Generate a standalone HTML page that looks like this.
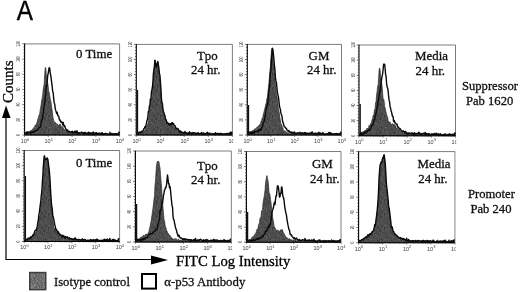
<!DOCTYPE html>
<html lang="en">
<head>
<meta charset="utf-8">
<title>Figure A - FITC Log Intensity histograms</title>
<style>
html,body{margin:0;padding:0;background:#fff;}
body{width:520px;height:292px;overflow:hidden;}
svg{display:block;}
.lb{font-family:"Liberation Serif","Times New Roman",serif;font-size:12.6px;fill:#111;stroke:#111;stroke-width:0.3px;}
.fx{font-family:"Liberation Serif","Times New Roman",serif;font-size:14.7px;fill:#000;stroke:#000;stroke-width:0.3px;}
.ct{font-family:"Liberation Serif","Times New Roman",serif;font-size:15px;fill:#000;stroke:#000;stroke-width:0.3px;}
.pa{font-family:"Liberation Sans",Arial,sans-serif;font-size:27px;fill:#000;stroke:#000;stroke-width:0.4px;}
.tk{font-family:"Liberation Sans",Arial,sans-serif;font-size:5.5px;fill:#3a3a3a;}
</style>
</head>
<body>
<svg width="520" height="292" viewBox="0 0 520 292">
<rect x="0" y="0" width="520" height="292" fill="#fff"/>
<defs><pattern id="dz" width="14" height="14" patternUnits="userSpaceOnUse"><rect width="14" height="14" fill="#4e4e4e"/><rect x="0" y="0" width="1" height="1" fill="#5e5e5e"/><rect x="0" y="1" width="1" height="1" fill="#515151"/><rect x="0" y="2" width="1" height="1" fill="#4e4e4e"/><rect x="0" y="3" width="1" height="1" fill="#3d3d3d"/><rect x="0" y="4" width="1" height="1" fill="#4b4b4b"/><rect x="0" y="5" width="1" height="1" fill="#4a4a4a"/><rect x="0" y="6" width="1" height="1" fill="#4d4d4d"/><rect x="0" y="7" width="1" height="1" fill="#484848"/><rect x="0" y="8" width="1" height="1" fill="#4d4d4d"/><rect x="0" y="9" width="1" height="1" fill="#494949"/><rect x="0" y="10" width="1" height="1" fill="#424242"/><rect x="0" y="11" width="1" height="1" fill="#555555"/><rect x="0" y="12" width="1" height="1" fill="#555555"/><rect x="0" y="13" width="1" height="1" fill="#5d5d5d"/><rect x="1" y="0" width="1" height="1" fill="#4e4e4e"/><rect x="1" y="1" width="1" height="1" fill="#4a4a4a"/><rect x="1" y="2" width="1" height="1" fill="#494949"/><rect x="1" y="3" width="1" height="1" fill="#404040"/><rect x="1" y="4" width="1" height="1" fill="#565656"/><rect x="1" y="5" width="1" height="1" fill="#444444"/><rect x="1" y="6" width="1" height="1" fill="#434343"/><rect x="1" y="7" width="1" height="1" fill="#4c4c4c"/><rect x="1" y="8" width="1" height="1" fill="#5b5b5b"/><rect x="1" y="9" width="1" height="1" fill="#505050"/><rect x="1" y="10" width="1" height="1" fill="#444444"/><rect x="1" y="11" width="1" height="1" fill="#474747"/><rect x="1" y="12" width="1" height="1" fill="#535353"/><rect x="1" y="13" width="1" height="1" fill="#4c4c4c"/><rect x="2" y="0" width="1" height="1" fill="#474747"/><rect x="2" y="1" width="1" height="1" fill="#4b4b4b"/><rect x="2" y="2" width="1" height="1" fill="#545454"/><rect x="2" y="3" width="1" height="1" fill="#5f5f5f"/><rect x="2" y="4" width="1" height="1" fill="#424242"/><rect x="2" y="5" width="1" height="1" fill="#484848"/><rect x="2" y="6" width="1" height="1" fill="#464646"/><rect x="2" y="7" width="1" height="1" fill="#383838"/><rect x="2" y="8" width="1" height="1" fill="#454545"/><rect x="2" y="9" width="1" height="1" fill="#444444"/><rect x="2" y="10" width="1" height="1" fill="#585858"/><rect x="2" y="11" width="1" height="1" fill="#4c4c4c"/><rect x="2" y="12" width="1" height="1" fill="#3f3f3f"/><rect x="2" y="13" width="1" height="1" fill="#535353"/><rect x="3" y="0" width="1" height="1" fill="#4a4a4a"/><rect x="3" y="1" width="1" height="1" fill="#3e3e3e"/><rect x="3" y="2" width="1" height="1" fill="#484848"/><rect x="3" y="3" width="1" height="1" fill="#484848"/><rect x="3" y="4" width="1" height="1" fill="#464646"/><rect x="3" y="5" width="1" height="1" fill="#4e4e4e"/><rect x="3" y="6" width="1" height="1" fill="#393939"/><rect x="3" y="7" width="1" height="1" fill="#4b4b4b"/><rect x="3" y="8" width="1" height="1" fill="#575757"/><rect x="3" y="9" width="1" height="1" fill="#555555"/><rect x="3" y="10" width="1" height="1" fill="#575757"/><rect x="3" y="11" width="1" height="1" fill="#585858"/><rect x="3" y="12" width="1" height="1" fill="#5b5b5b"/><rect x="3" y="13" width="1" height="1" fill="#434343"/><rect x="4" y="0" width="1" height="1" fill="#555555"/><rect x="4" y="1" width="1" height="1" fill="#3d3d3d"/><rect x="4" y="2" width="1" height="1" fill="#484848"/><rect x="4" y="3" width="1" height="1" fill="#3c3c3c"/><rect x="4" y="4" width="1" height="1" fill="#575757"/><rect x="4" y="5" width="1" height="1" fill="#5a5a5a"/><rect x="4" y="6" width="1" height="1" fill="#4c4c4c"/><rect x="4" y="7" width="1" height="1" fill="#5d5d5d"/><rect x="4" y="8" width="1" height="1" fill="#474747"/><rect x="4" y="9" width="1" height="1" fill="#4f4f4f"/><rect x="4" y="10" width="1" height="1" fill="#4f4f4f"/><rect x="4" y="11" width="1" height="1" fill="#444444"/><rect x="4" y="12" width="1" height="1" fill="#515151"/><rect x="4" y="13" width="1" height="1" fill="#5f5f5f"/><rect x="5" y="0" width="1" height="1" fill="#444444"/><rect x="5" y="1" width="1" height="1" fill="#565656"/><rect x="5" y="2" width="1" height="1" fill="#4c4c4c"/><rect x="5" y="3" width="1" height="1" fill="#5d5d5d"/><rect x="5" y="4" width="1" height="1" fill="#525252"/><rect x="5" y="5" width="1" height="1" fill="#545454"/><rect x="5" y="6" width="1" height="1" fill="#535353"/><rect x="5" y="7" width="1" height="1" fill="#505050"/><rect x="5" y="8" width="1" height="1" fill="#414141"/><rect x="5" y="9" width="1" height="1" fill="#5a5a5a"/><rect x="5" y="10" width="1" height="1" fill="#414141"/><rect x="5" y="11" width="1" height="1" fill="#505050"/><rect x="5" y="12" width="1" height="1" fill="#535353"/><rect x="5" y="13" width="1" height="1" fill="#464646"/><rect x="6" y="0" width="1" height="1" fill="#4f4f4f"/><rect x="6" y="1" width="1" height="1" fill="#585858"/><rect x="6" y="2" width="1" height="1" fill="#4d4d4d"/><rect x="6" y="3" width="1" height="1" fill="#464646"/><rect x="6" y="4" width="1" height="1" fill="#333333"/><rect x="6" y="5" width="1" height="1" fill="#454545"/><rect x="6" y="6" width="1" height="1" fill="#484848"/><rect x="6" y="7" width="1" height="1" fill="#494949"/><rect x="6" y="8" width="1" height="1" fill="#454545"/><rect x="6" y="9" width="1" height="1" fill="#515151"/><rect x="6" y="10" width="1" height="1" fill="#484848"/><rect x="6" y="11" width="1" height="1" fill="#4d4d4d"/><rect x="6" y="12" width="1" height="1" fill="#545454"/><rect x="6" y="13" width="1" height="1" fill="#464646"/><rect x="7" y="0" width="1" height="1" fill="#4b4b4b"/><rect x="7" y="1" width="1" height="1" fill="#616161"/><rect x="7" y="2" width="1" height="1" fill="#555555"/><rect x="7" y="3" width="1" height="1" fill="#424242"/><rect x="7" y="4" width="1" height="1" fill="#4d4d4d"/><rect x="7" y="5" width="1" height="1" fill="#535353"/><rect x="7" y="6" width="1" height="1" fill="#595959"/><rect x="7" y="7" width="1" height="1" fill="#4f4f4f"/><rect x="7" y="8" width="1" height="1" fill="#494949"/><rect x="7" y="9" width="1" height="1" fill="#474747"/><rect x="7" y="10" width="1" height="1" fill="#535353"/><rect x="7" y="11" width="1" height="1" fill="#505050"/><rect x="7" y="12" width="1" height="1" fill="#494949"/><rect x="7" y="13" width="1" height="1" fill="#4c4c4c"/><rect x="8" y="0" width="1" height="1" fill="#4a4a4a"/><rect x="8" y="1" width="1" height="1" fill="#545454"/><rect x="8" y="2" width="1" height="1" fill="#474747"/><rect x="8" y="3" width="1" height="1" fill="#525252"/><rect x="8" y="4" width="1" height="1" fill="#555555"/><rect x="8" y="5" width="1" height="1" fill="#525252"/><rect x="8" y="6" width="1" height="1" fill="#464646"/><rect x="8" y="7" width="1" height="1" fill="#5a5a5a"/><rect x="8" y="8" width="1" height="1" fill="#474747"/><rect x="8" y="9" width="1" height="1" fill="#515151"/><rect x="8" y="10" width="1" height="1" fill="#474747"/><rect x="8" y="11" width="1" height="1" fill="#3e3e3e"/><rect x="8" y="12" width="1" height="1" fill="#505050"/><rect x="8" y="13" width="1" height="1" fill="#505050"/><rect x="9" y="0" width="1" height="1" fill="#4d4d4d"/><rect x="9" y="1" width="1" height="1" fill="#505050"/><rect x="9" y="2" width="1" height="1" fill="#484848"/><rect x="9" y="3" width="1" height="1" fill="#474747"/><rect x="9" y="4" width="1" height="1" fill="#4c4c4c"/><rect x="9" y="5" width="1" height="1" fill="#5f5f5f"/><rect x="9" y="6" width="1" height="1" fill="#555555"/><rect x="9" y="7" width="1" height="1" fill="#494949"/><rect x="9" y="8" width="1" height="1" fill="#535353"/><rect x="9" y="9" width="1" height="1" fill="#494949"/><rect x="9" y="10" width="1" height="1" fill="#494949"/><rect x="9" y="11" width="1" height="1" fill="#555555"/><rect x="9" y="12" width="1" height="1" fill="#494949"/><rect x="9" y="13" width="1" height="1" fill="#3e3e3e"/><rect x="10" y="0" width="1" height="1" fill="#454545"/><rect x="10" y="1" width="1" height="1" fill="#4e4e4e"/><rect x="10" y="2" width="1" height="1" fill="#4f4f4f"/><rect x="10" y="3" width="1" height="1" fill="#595959"/><rect x="10" y="4" width="1" height="1" fill="#474747"/><rect x="10" y="5" width="1" height="1" fill="#545454"/><rect x="10" y="6" width="1" height="1" fill="#515151"/><rect x="10" y="7" width="1" height="1" fill="#4c4c4c"/><rect x="10" y="8" width="1" height="1" fill="#555555"/><rect x="10" y="9" width="1" height="1" fill="#525252"/><rect x="10" y="10" width="1" height="1" fill="#464646"/><rect x="10" y="11" width="1" height="1" fill="#575757"/><rect x="10" y="12" width="1" height="1" fill="#434343"/><rect x="10" y="13" width="1" height="1" fill="#4e4e4e"/><rect x="11" y="0" width="1" height="1" fill="#4e4e4e"/><rect x="11" y="1" width="1" height="1" fill="#515151"/><rect x="11" y="2" width="1" height="1" fill="#474747"/><rect x="11" y="3" width="1" height="1" fill="#4d4d4d"/><rect x="11" y="4" width="1" height="1" fill="#4c4c4c"/><rect x="11" y="5" width="1" height="1" fill="#565656"/><rect x="11" y="6" width="1" height="1" fill="#464646"/><rect x="11" y="7" width="1" height="1" fill="#4e4e4e"/><rect x="11" y="8" width="1" height="1" fill="#4b4b4b"/><rect x="11" y="9" width="1" height="1" fill="#424242"/><rect x="11" y="10" width="1" height="1" fill="#666666"/><rect x="11" y="11" width="1" height="1" fill="#4d4d4d"/><rect x="11" y="12" width="1" height="1" fill="#404040"/><rect x="11" y="13" width="1" height="1" fill="#5a5a5a"/><rect x="12" y="0" width="1" height="1" fill="#444444"/><rect x="12" y="1" width="1" height="1" fill="#515151"/><rect x="12" y="2" width="1" height="1" fill="#555555"/><rect x="12" y="3" width="1" height="1" fill="#484848"/><rect x="12" y="4" width="1" height="1" fill="#4a4a4a"/><rect x="12" y="5" width="1" height="1" fill="#494949"/><rect x="12" y="6" width="1" height="1" fill="#4c4c4c"/><rect x="12" y="7" width="1" height="1" fill="#3f3f3f"/><rect x="12" y="8" width="1" height="1" fill="#424242"/><rect x="12" y="9" width="1" height="1" fill="#4c4c4c"/><rect x="12" y="10" width="1" height="1" fill="#575757"/><rect x="12" y="11" width="1" height="1" fill="#535353"/><rect x="12" y="12" width="1" height="1" fill="#5d5d5d"/><rect x="12" y="13" width="1" height="1" fill="#545454"/><rect x="13" y="0" width="1" height="1" fill="#494949"/><rect x="13" y="1" width="1" height="1" fill="#4c4c4c"/><rect x="13" y="2" width="1" height="1" fill="#3b3b3b"/><rect x="13" y="3" width="1" height="1" fill="#454545"/><rect x="13" y="4" width="1" height="1" fill="#444444"/><rect x="13" y="5" width="1" height="1" fill="#505050"/><rect x="13" y="6" width="1" height="1" fill="#535353"/><rect x="13" y="7" width="1" height="1" fill="#484848"/><rect x="13" y="8" width="1" height="1" fill="#484848"/><rect x="13" y="9" width="1" height="1" fill="#404040"/><rect x="13" y="10" width="1" height="1" fill="#4c4c4c"/><rect x="13" y="11" width="1" height="1" fill="#505050"/><rect x="13" y="12" width="1" height="1" fill="#525252"/><rect x="13" y="13" width="1" height="1" fill="#464646"/></pattern>
<pattern id="dl" width="14" height="14" patternUnits="userSpaceOnUse"><rect width="14" height="14" fill="#707070"/><rect x="0" y="0" width="1" height="1" fill="#8b8b8b"/><rect x="0" y="1" width="1" height="1" fill="#808080"/><rect x="0" y="2" width="1" height="1" fill="#6e6e6e"/><rect x="0" y="3" width="1" height="1" fill="#686868"/><rect x="0" y="4" width="1" height="1" fill="#6b6b6b"/><rect x="0" y="5" width="1" height="1" fill="#727272"/><rect x="0" y="6" width="1" height="1" fill="#6f6f6f"/><rect x="0" y="7" width="1" height="1" fill="#767676"/><rect x="0" y="8" width="1" height="1" fill="#7a7a7a"/><rect x="0" y="9" width="1" height="1" fill="#838383"/><rect x="0" y="10" width="1" height="1" fill="#808080"/><rect x="0" y="11" width="1" height="1" fill="#6e6e6e"/><rect x="0" y="12" width="1" height="1" fill="#757575"/><rect x="0" y="13" width="1" height="1" fill="#6a6a6a"/><rect x="1" y="0" width="1" height="1" fill="#676767"/><rect x="1" y="1" width="1" height="1" fill="#8a8a8a"/><rect x="1" y="2" width="1" height="1" fill="#696969"/><rect x="1" y="3" width="1" height="1" fill="#8b8b8b"/><rect x="1" y="4" width="1" height="1" fill="#6b6b6b"/><rect x="1" y="5" width="1" height="1" fill="#737373"/><rect x="1" y="6" width="1" height="1" fill="#7f7f7f"/><rect x="1" y="7" width="1" height="1" fill="#707070"/><rect x="1" y="8" width="1" height="1" fill="#757575"/><rect x="1" y="9" width="1" height="1" fill="#6c6c6c"/><rect x="1" y="10" width="1" height="1" fill="#696969"/><rect x="1" y="11" width="1" height="1" fill="#6d6d6d"/><rect x="1" y="12" width="1" height="1" fill="#666666"/><rect x="1" y="13" width="1" height="1" fill="#868686"/><rect x="2" y="0" width="1" height="1" fill="#6d6d6d"/><rect x="2" y="1" width="1" height="1" fill="#888888"/><rect x="2" y="2" width="1" height="1" fill="#505050"/><rect x="2" y="3" width="1" height="1" fill="#707070"/><rect x="2" y="4" width="1" height="1" fill="#777777"/><rect x="2" y="5" width="1" height="1" fill="#6b6b6b"/><rect x="2" y="6" width="1" height="1" fill="#7f7f7f"/><rect x="2" y="7" width="1" height="1" fill="#787878"/><rect x="2" y="8" width="1" height="1" fill="#6c6c6c"/><rect x="2" y="9" width="1" height="1" fill="#767676"/><rect x="2" y="10" width="1" height="1" fill="#979797"/><rect x="2" y="11" width="1" height="1" fill="#737373"/><rect x="2" y="12" width="1" height="1" fill="#747474"/><rect x="2" y="13" width="1" height="1" fill="#696969"/><rect x="3" y="0" width="1" height="1" fill="#717171"/><rect x="3" y="1" width="1" height="1" fill="#5d5d5d"/><rect x="3" y="2" width="1" height="1" fill="#6d6d6d"/><rect x="3" y="3" width="1" height="1" fill="#929292"/><rect x="3" y="4" width="1" height="1" fill="#7e7e7e"/><rect x="3" y="5" width="1" height="1" fill="#787878"/><rect x="3" y="6" width="1" height="1" fill="#7f7f7f"/><rect x="3" y="7" width="1" height="1" fill="#8a8a8a"/><rect x="3" y="8" width="1" height="1" fill="#787878"/><rect x="3" y="9" width="1" height="1" fill="#8c8c8c"/><rect x="3" y="10" width="1" height="1" fill="#7e7e7e"/><rect x="3" y="11" width="1" height="1" fill="#727272"/><rect x="3" y="12" width="1" height="1" fill="#888888"/><rect x="3" y="13" width="1" height="1" fill="#505050"/><rect x="4" y="0" width="1" height="1" fill="#686868"/><rect x="4" y="1" width="1" height="1" fill="#737373"/><rect x="4" y="2" width="1" height="1" fill="#636363"/><rect x="4" y="3" width="1" height="1" fill="#6d6d6d"/><rect x="4" y="4" width="1" height="1" fill="#676767"/><rect x="4" y="5" width="1" height="1" fill="#666666"/><rect x="4" y="6" width="1" height="1" fill="#959595"/><rect x="4" y="7" width="1" height="1" fill="#787878"/><rect x="4" y="8" width="1" height="1" fill="#6f6f6f"/><rect x="4" y="9" width="1" height="1" fill="#828282"/><rect x="4" y="10" width="1" height="1" fill="#6c6c6c"/><rect x="4" y="11" width="1" height="1" fill="#7c7c7c"/><rect x="4" y="12" width="1" height="1" fill="#747474"/><rect x="4" y="13" width="1" height="1" fill="#868686"/><rect x="5" y="0" width="1" height="1" fill="#5c5c5c"/><rect x="5" y="1" width="1" height="1" fill="#7a7a7a"/><rect x="5" y="2" width="1" height="1" fill="#717171"/><rect x="5" y="3" width="1" height="1" fill="#5f5f5f"/><rect x="5" y="4" width="1" height="1" fill="#7e7e7e"/><rect x="5" y="5" width="1" height="1" fill="#636363"/><rect x="5" y="6" width="1" height="1" fill="#868686"/><rect x="5" y="7" width="1" height="1" fill="#777777"/><rect x="5" y="8" width="1" height="1" fill="#797979"/><rect x="5" y="9" width="1" height="1" fill="#717171"/><rect x="5" y="10" width="1" height="1" fill="#7c7c7c"/><rect x="5" y="11" width="1" height="1" fill="#555555"/><rect x="5" y="12" width="1" height="1" fill="#717171"/><rect x="5" y="13" width="1" height="1" fill="#676767"/><rect x="6" y="0" width="1" height="1" fill="#737373"/><rect x="6" y="1" width="1" height="1" fill="#6f6f6f"/><rect x="6" y="2" width="1" height="1" fill="#787878"/><rect x="6" y="3" width="1" height="1" fill="#646464"/><rect x="6" y="4" width="1" height="1" fill="#898989"/><rect x="6" y="5" width="1" height="1" fill="#909090"/><rect x="6" y="6" width="1" height="1" fill="#6d6d6d"/><rect x="6" y="7" width="1" height="1" fill="#6f6f6f"/><rect x="6" y="8" width="1" height="1" fill="#747474"/><rect x="6" y="9" width="1" height="1" fill="#818181"/><rect x="6" y="10" width="1" height="1" fill="#8a8a8a"/><rect x="6" y="11" width="1" height="1" fill="#5f5f5f"/><rect x="6" y="12" width="1" height="1" fill="#676767"/><rect x="6" y="13" width="1" height="1" fill="#616161"/><rect x="7" y="0" width="1" height="1" fill="#606060"/><rect x="7" y="1" width="1" height="1" fill="#595959"/><rect x="7" y="2" width="1" height="1" fill="#757575"/><rect x="7" y="3" width="1" height="1" fill="#5f5f5f"/><rect x="7" y="4" width="1" height="1" fill="#858585"/><rect x="7" y="5" width="1" height="1" fill="#7c7c7c"/><rect x="7" y="6" width="1" height="1" fill="#616161"/><rect x="7" y="7" width="1" height="1" fill="#616161"/><rect x="7" y="8" width="1" height="1" fill="#676767"/><rect x="7" y="9" width="1" height="1" fill="#838383"/><rect x="7" y="10" width="1" height="1" fill="#646464"/><rect x="7" y="11" width="1" height="1" fill="#5b5b5b"/><rect x="7" y="12" width="1" height="1" fill="#6f6f6f"/><rect x="7" y="13" width="1" height="1" fill="#757575"/><rect x="8" y="0" width="1" height="1" fill="#666666"/><rect x="8" y="1" width="1" height="1" fill="#868686"/><rect x="8" y="2" width="1" height="1" fill="#737373"/><rect x="8" y="3" width="1" height="1" fill="#767676"/><rect x="8" y="4" width="1" height="1" fill="#646464"/><rect x="8" y="5" width="1" height="1" fill="#6f6f6f"/><rect x="8" y="6" width="1" height="1" fill="#6d6d6d"/><rect x="8" y="7" width="1" height="1" fill="#505050"/><rect x="8" y="8" width="1" height="1" fill="#747474"/><rect x="8" y="9" width="1" height="1" fill="#565656"/><rect x="8" y="10" width="1" height="1" fill="#6f6f6f"/><rect x="8" y="11" width="1" height="1" fill="#5b5b5b"/><rect x="8" y="12" width="1" height="1" fill="#8c8c8c"/><rect x="8" y="13" width="1" height="1" fill="#747474"/><rect x="9" y="0" width="1" height="1" fill="#7c7c7c"/><rect x="9" y="1" width="1" height="1" fill="#7c7c7c"/><rect x="9" y="2" width="1" height="1" fill="#5d5d5d"/><rect x="9" y="3" width="1" height="1" fill="#505050"/><rect x="9" y="4" width="1" height="1" fill="#6b6b6b"/><rect x="9" y="5" width="1" height="1" fill="#7c7c7c"/><rect x="9" y="6" width="1" height="1" fill="#717171"/><rect x="9" y="7" width="1" height="1" fill="#7a7a7a"/><rect x="9" y="8" width="1" height="1" fill="#7d7d7d"/><rect x="9" y="9" width="1" height="1" fill="#5b5b5b"/><rect x="9" y="10" width="1" height="1" fill="#747474"/><rect x="9" y="11" width="1" height="1" fill="#8b8b8b"/><rect x="9" y="12" width="1" height="1" fill="#686868"/><rect x="9" y="13" width="1" height="1" fill="#535353"/><rect x="10" y="0" width="1" height="1" fill="#6c6c6c"/><rect x="10" y="1" width="1" height="1" fill="#696969"/><rect x="10" y="2" width="1" height="1" fill="#757575"/><rect x="10" y="3" width="1" height="1" fill="#636363"/><rect x="10" y="4" width="1" height="1" fill="#717171"/><rect x="10" y="5" width="1" height="1" fill="#505050"/><rect x="10" y="6" width="1" height="1" fill="#7b7b7b"/><rect x="10" y="7" width="1" height="1" fill="#868686"/><rect x="10" y="8" width="1" height="1" fill="#828282"/><rect x="10" y="9" width="1" height="1" fill="#5a5a5a"/><rect x="10" y="10" width="1" height="1" fill="#747474"/><rect x="10" y="11" width="1" height="1" fill="#505050"/><rect x="10" y="12" width="1" height="1" fill="#737373"/><rect x="10" y="13" width="1" height="1" fill="#6f6f6f"/><rect x="11" y="0" width="1" height="1" fill="#626262"/><rect x="11" y="1" width="1" height="1" fill="#747474"/><rect x="11" y="2" width="1" height="1" fill="#717171"/><rect x="11" y="3" width="1" height="1" fill="#7d7d7d"/><rect x="11" y="4" width="1" height="1" fill="#717171"/><rect x="11" y="5" width="1" height="1" fill="#737373"/><rect x="11" y="6" width="1" height="1" fill="#545454"/><rect x="11" y="7" width="1" height="1" fill="#5f5f5f"/><rect x="11" y="8" width="1" height="1" fill="#696969"/><rect x="11" y="9" width="1" height="1" fill="#747474"/><rect x="11" y="10" width="1" height="1" fill="#6f6f6f"/><rect x="11" y="11" width="1" height="1" fill="#858585"/><rect x="11" y="12" width="1" height="1" fill="#636363"/><rect x="11" y="13" width="1" height="1" fill="#6c6c6c"/><rect x="12" y="0" width="1" height="1" fill="#737373"/><rect x="12" y="1" width="1" height="1" fill="#6c6c6c"/><rect x="12" y="2" width="1" height="1" fill="#767676"/><rect x="12" y="3" width="1" height="1" fill="#686868"/><rect x="12" y="4" width="1" height="1" fill="#838383"/><rect x="12" y="5" width="1" height="1" fill="#6b6b6b"/><rect x="12" y="6" width="1" height="1" fill="#7f7f7f"/><rect x="12" y="7" width="1" height="1" fill="#6f6f6f"/><rect x="12" y="8" width="1" height="1" fill="#848484"/><rect x="12" y="9" width="1" height="1" fill="#5c5c5c"/><rect x="12" y="10" width="1" height="1" fill="#777777"/><rect x="12" y="11" width="1" height="1" fill="#696969"/><rect x="12" y="12" width="1" height="1" fill="#737373"/><rect x="12" y="13" width="1" height="1" fill="#808080"/><rect x="13" y="0" width="1" height="1" fill="#606060"/><rect x="13" y="1" width="1" height="1" fill="#5d5d5d"/><rect x="13" y="2" width="1" height="1" fill="#626262"/><rect x="13" y="3" width="1" height="1" fill="#737373"/><rect x="13" y="4" width="1" height="1" fill="#555555"/><rect x="13" y="5" width="1" height="1" fill="#717171"/><rect x="13" y="6" width="1" height="1" fill="#5d5d5d"/><rect x="13" y="7" width="1" height="1" fill="#5f5f5f"/><rect x="13" y="8" width="1" height="1" fill="#6a6a6a"/><rect x="13" y="9" width="1" height="1" fill="#757575"/><rect x="13" y="10" width="1" height="1" fill="#676767"/><rect x="13" y="11" width="1" height="1" fill="#696969"/><rect x="13" y="12" width="1" height="1" fill="#6f6f6f"/><rect x="13" y="13" width="1" height="1" fill="#6c6c6c"/></pattern></defs>
<clipPath id="cp11"><rect x="12.6" y="37.9" width="113.0" height="111.1"/></clipPath>
<g clip-path="url(#cp11)">
<path d="M24.6,43.9 H119.6 V135.0" fill="none" stroke="#505050" stroke-width="0.75"/>
<polygon points="25.2,135.0 25.2,134.0 25.7,132.5 26.2,132.2 26.7,132.0 27.2,132.8 27.7,131.2 28.2,133.0 28.7,131.6 29.2,132.0 29.7,131.5 30.2,132.1 30.7,130.1 31.2,130.7 31.7,130.3 32.2,130.7 32.7,128.9 33.2,128.7 33.7,127.6 34.2,127.3 34.7,126.9 35.2,124.9 35.7,125.6 36.2,124.4 36.7,123.0 37.2,122.1 37.7,119.5 38.2,118.5 38.7,116.1 39.2,115.0 39.7,113.7 40.2,110.0 40.7,107.5 41.2,104.2 41.7,100.8 42.2,97.8 42.7,95.1 43.2,89.7 43.7,87.1 44.2,83.8 44.7,75.1 45.2,67.6 45.7,67.7 46.2,73.1 46.7,80.9 47.2,81.6 47.7,83.1 48.2,86.7 48.7,91.9 49.2,92.2 49.7,95.8 50.2,98.5 50.7,100.8 51.2,103.2 51.7,107.7 52.2,111.0 52.7,115.2 53.2,118.5 53.7,121.0 54.2,121.6 54.7,122.8 55.2,122.1 55.7,124.1 56.2,123.9 56.7,123.6 57.2,124.4 57.7,124.2 58.2,125.2 58.7,125.6 59.2,126.2 59.7,123.9 60.2,124.1 60.7,125.2 61.2,126.1 61.7,127.2 62.2,127.4 62.7,126.5 63.2,128.0 63.7,129.2 64.2,129.3 64.7,130.0 65.2,129.9 65.7,130.2 66.2,130.7 66.7,131.0 67.2,131.0 67.7,131.1 68.2,130.9 68.7,131.5 69.2,131.5 69.7,132.1 70.2,132.3 70.7,131.8 71.2,131.7 71.7,131.6 72.2,132.2 72.7,132.2 73.2,132.1 73.7,132.3 74.2,132.1 74.7,132.8 75.2,132.4 75.7,133.3 76.2,133.0 76.7,133.1 77.2,132.4 77.7,133.1 78.2,133.4 78.7,132.7 79.2,133.1 79.7,133.3 80.2,132.7 80.7,133.5 81.2,133.7 81.7,133.0 82.2,133.5 82.7,132.8 83.2,133.4 83.7,132.7 84.2,133.9 84.7,133.6 85.2,131.9 85.7,133.1 86.2,134.0 86.7,134.3 87.2,132.7 87.7,134.1 88.2,134.2 88.7,133.7 89.2,133.0 89.7,133.9 90.2,133.5 90.7,133.3 91.2,133.1 91.7,133.9 92.2,132.5 92.7,133.4 93.2,133.9 93.7,133.2 94.2,134.0 94.7,132.4 95.2,133.6 95.7,133.7 96.2,134.1 96.7,134.1 97.2,134.0 97.7,133.8 98.2,133.8 98.7,134.1 99.2,132.4 99.7,134.1 100.2,133.7 100.7,132.8 101.2,134.3 101.7,134.3 102.2,133.8 102.7,133.9 103.2,133.6 103.7,133.9 104.2,133.9 104.7,133.5 105.2,133.7 105.7,133.6 106.2,134.1 106.7,133.9 107.2,134.2 107.7,133.9 108.2,134.3 108.7,133.8 109.2,133.9 109.7,131.7 110.2,133.7 110.7,132.8 111.2,133.9 111.7,133.9 112.2,134.0 112.7,133.9 113.2,134.3 113.7,133.9 114.2,134.3 114.7,133.9 115.2,133.5 115.7,134.1 116.2,134.2 116.7,133.4 117.2,134.0 117.7,133.7 118.2,134.2 118.7,133.2 119.2,131.8 119.2,135.0" fill="url(#dz)" stroke="#2a2a2a" stroke-width="0.7" stroke-linejoin="round"/>
<polyline points="25.2,133.4 25.7,133.4 26.2,132.3 26.7,133.8 27.2,132.2 27.7,132.6 28.2,133.2 28.7,132.3 29.2,132.4 29.7,132.4 30.2,133.0 30.7,133.7 31.2,132.5 31.7,131.9 32.2,132.5 32.7,131.8 33.2,132.0 33.7,132.4 34.2,131.3 34.7,131.5 35.2,130.9 35.7,131.0 36.2,131.0 36.7,130.1 37.2,130.1 37.7,129.8 38.2,129.1 38.7,128.2 39.2,127.4 39.7,127.4 40.2,126.4 40.7,126.7 41.2,121.4 41.7,121.1 42.2,118.8 42.7,117.3 43.2,113.6 43.7,108.8 44.2,106.2 44.7,103.1 45.2,97.6 45.7,94.3 46.2,86.2 46.7,86.5 47.2,81.8 47.7,75.5 48.2,73.6 48.7,69.8 49.2,67.6 49.7,68.4 50.2,72.8 50.7,75.2 51.2,78.9 51.7,82.6 52.2,86.8 52.7,91.5 53.2,92.8 53.7,98.7 54.2,102.9 54.7,104.1 55.2,108.3 55.7,110.4 56.2,111.9 56.7,113.5 57.2,112.2 57.7,115.4 58.2,115.8 58.7,116.2 59.2,119.1 59.7,120.3 60.2,120.0 60.7,122.0 61.2,121.6 61.7,122.5 62.2,122.2 62.7,124.8 63.2,122.4 63.7,125.1 64.2,126.5 64.7,125.7 65.2,127.7 65.7,128.6 66.2,129.7 66.7,130.5 67.2,130.1 67.7,130.0 68.2,131.8 68.7,132.0 69.2,131.3 69.7,131.8 70.2,131.9 70.7,132.1 71.2,132.0 71.7,132.6 72.2,131.1 72.7,132.6 73.2,132.3 73.7,132.1 74.2,132.8 74.7,131.2 75.2,132.9 75.7,131.3 76.2,131.0 76.7,132.8 77.2,131.0 77.7,133.9 78.2,133.6 78.7,133.0 79.2,132.6 79.7,132.7 80.2,132.9 80.7,132.8 81.2,132.6 81.7,132.0 82.2,133.0 82.7,132.9 83.2,132.8 83.7,132.7 84.2,134.3 84.7,132.5 85.2,132.7 85.7,133.4 86.2,133.1 86.7,133.4 87.2,133.6 87.7,133.9 88.2,132.1 88.7,132.9 89.2,133.8 89.7,132.6 90.2,133.3 90.7,133.2 91.2,132.9 91.7,133.7 92.2,133.4 92.7,133.9 93.2,131.9 93.7,133.9 94.2,133.8 94.7,133.6 95.2,132.9 95.7,133.4 96.2,132.9 96.7,132.7 97.2,134.3 97.7,134.1 98.2,133.3 98.7,133.5 99.2,134.0 99.7,134.1 100.2,134.0 100.7,133.8 101.2,133.7 101.7,132.9 102.2,132.7 102.7,134.0 103.2,134.3 103.7,133.8 104.2,134.3 104.7,133.7 105.2,133.4 105.7,134.3 106.2,133.8 106.7,133.5 107.2,134.1 107.7,134.3 108.2,134.1 108.7,134.1 109.2,134.2 109.7,134.3 110.2,134.3 110.7,133.1 111.2,134.2 111.7,134.3 112.2,133.8 112.7,133.6 113.2,134.2 113.7,133.9 114.2,133.7 114.7,134.3 115.2,133.7 115.7,134.1 116.2,133.8 116.7,134.2 117.2,134.3 117.7,134.3 118.2,133.4 118.7,133.2 119.2,131.8" fill="none" stroke="#0a0a0a" stroke-width="1.4" stroke-linejoin="round"/>
<path d="M24.6,43.6 V135.0 H119.9" fill="none" stroke="#000" stroke-width="1.1"/>
<path d="M24.6,135.00 h-2.4 M24.6,131.96 h-1.3 M24.6,128.93 h-1.3 M24.6,125.89 h-1.3 M24.6,122.85 h-1.3 M24.6,119.82 h-2.4 M24.6,116.78 h-1.3 M24.6,113.74 h-1.3 M24.6,110.71 h-1.3 M24.6,107.67 h-1.3 M24.6,104.63 h-2.4 M24.6,101.60 h-1.3 M24.6,98.56 h-1.3 M24.6,95.52 h-1.3 M24.6,92.49 h-1.3 M24.6,89.45 h-2.4 M24.6,86.41 h-1.3 M24.6,83.38 h-1.3 M24.6,80.34 h-1.3 M24.6,77.30 h-1.3 M24.6,74.27 h-2.4 M24.6,71.23 h-1.3 M24.6,68.19 h-1.3 M24.6,65.16 h-1.3 M24.6,62.12 h-1.3 M24.6,59.08 h-2.4 M24.6,56.05 h-1.3 M24.6,53.01 h-1.3 M24.6,49.97 h-1.3 M24.6,46.94 h-1.3 M24.6,43.90 h-2.4" stroke="#222" stroke-width="0.6"/>
<path d="M24.60,135.0 v2.0 M31.75,135.0 v1.0 M35.93,135.0 v1.0 M38.90,135.0 v1.0 M41.20,135.0 v1.0 M43.08,135.0 v1.0 M44.67,135.0 v1.0 M46.05,135.0 v1.0 M47.26,135.0 v1.0 M48.35,135.0 v2.0 M55.50,135.0 v1.0 M59.68,135.0 v1.0 M62.65,135.0 v1.0 M64.95,135.0 v1.0 M66.83,135.0 v1.0 M68.42,135.0 v1.0 M69.80,135.0 v1.0 M71.01,135.0 v1.0 M72.10,135.0 v2.0 M79.25,135.0 v1.0 M83.43,135.0 v1.0 M86.40,135.0 v1.0 M88.70,135.0 v1.0 M90.58,135.0 v1.0 M92.17,135.0 v1.0 M93.55,135.0 v1.0 M94.76,135.0 v1.0 M95.85,135.0 v2.0 M103.00,135.0 v1.0 M107.18,135.0 v1.0 M110.15,135.0 v1.0 M112.45,135.0 v1.0 M114.33,135.0 v1.0 M115.92,135.0 v1.0 M117.30,135.0 v1.0 M118.51,135.0 v1.0 M119.60,135.0 v2" stroke="#222" stroke-width="0.5"/>
<text x="20.7" y="142.8" class="tk">10<tspan dy="-2.2" font-size="4">0</tspan></text>
<text x="44.5" y="142.8" class="tk">10<tspan dy="-2.2" font-size="4">1</tspan></text>
<text x="68.2" y="142.8" class="tk">10<tspan dy="-2.2" font-size="4">2</tspan></text>
<text x="91.9" y="142.8" class="tk">10<tspan dy="-2.2" font-size="4">3</tspan></text>
<text x="115.7" y="142.8" class="tk">10<tspan dy="-2.2" font-size="4">4</tspan></text>
<text transform="translate(20.4,135.0) rotate(-90) scale(0.6,0.9)" class="tk" text-anchor="middle">0</text>
<text transform="translate(20.4,119.8) rotate(-90) scale(0.6,0.9)" class="tk" text-anchor="middle">20</text>
<text transform="translate(20.4,104.6) rotate(-90) scale(0.6,0.9)" class="tk" text-anchor="middle">40</text>
<text transform="translate(20.4,89.5) rotate(-90) scale(0.6,0.9)" class="tk" text-anchor="middle">60</text>
<text transform="translate(20.4,74.3) rotate(-90) scale(0.6,0.9)" class="tk" text-anchor="middle">80</text>
<text transform="translate(20.4,59.1) rotate(-90) scale(0.6,0.9)" class="tk" text-anchor="middle">100</text>
<text transform="translate(20.4,43.9) rotate(-90) scale(0.6,0.9)" class="tk" text-anchor="middle">120</text>
</g>
<clipPath id="cp21"><rect x="124.3" y="38.4" width="108.9" height="110.6"/></clipPath>
<g clip-path="url(#cp21)">
<path d="M136.3,44.4 H232.4 V135.0" fill="none" stroke="#505050" stroke-width="0.75"/>
<polygon points="136.9,135.0 136.9,134.3 137.4,133.5 137.9,133.1 138.4,132.1 138.9,132.8 139.4,132.7 139.9,132.7 140.4,132.3 140.9,132.5 141.4,132.1 141.9,131.5 142.4,132.3 142.9,132.1 143.4,132.2 143.9,131.1 144.4,130.5 144.9,129.8 145.4,128.5 145.9,129.0 146.4,126.7 146.9,125.5 147.4,124.7 147.9,124.0 148.4,120.7 148.9,116.3 149.4,112.2 149.9,109.5 150.4,105.3 150.9,101.7 151.4,99.7 151.9,97.7 152.4,95.1 152.9,85.9 153.4,81.2 153.9,75.0 154.4,66.9 154.9,61.8 155.4,60.0 155.9,64.5 156.4,65.7 156.9,63.2 157.4,64.4 157.9,62.5 158.4,64.0 158.9,70.2 159.4,73.9 159.9,77.7 160.4,86.4 160.9,93.1 161.4,100.6 161.9,106.2 162.4,109.0 162.9,111.9 163.4,114.1 163.9,116.4 164.4,115.7 164.9,119.1 165.4,118.1 165.9,120.3 166.4,120.2 166.9,123.5 167.4,124.5 167.9,124.1 168.4,126.0 168.9,124.5 169.4,125.0 169.9,124.7 170.4,123.3 170.9,123.9 171.4,124.7 171.9,122.2 172.4,123.9 172.9,123.8 173.4,126.2 173.9,126.2 174.4,127.1 174.9,127.9 175.4,128.4 175.9,128.1 176.4,130.2 176.9,129.1 177.4,130.5 177.9,131.1 178.4,130.7 178.9,131.5 179.4,132.3 179.9,132.0 180.4,131.7 180.9,130.9 181.4,132.0 181.9,132.3 182.4,132.5 182.9,132.4 183.4,133.2 183.9,132.8 184.4,133.1 184.9,133.5 185.4,132.1 185.9,133.2 186.4,134.3 186.9,133.6 187.4,132.7 187.9,133.3 188.4,133.6 188.9,133.9 189.4,133.4 189.9,133.2 190.4,133.1 190.9,133.4 191.4,133.6 191.9,133.2 192.4,133.4 192.9,133.3 193.4,133.8 193.9,132.1 194.4,133.7 194.9,133.9 195.4,133.7 195.9,133.2 196.4,134.1 196.9,133.2 197.4,132.8 197.9,133.2 198.4,132.8 198.9,133.7 199.4,133.7 199.9,133.6 200.4,133.7 200.9,133.4 201.4,133.3 201.9,133.6 202.4,134.3 202.9,134.0 203.4,133.5 203.9,132.6 204.4,133.5 204.9,133.5 205.4,134.1 205.9,133.5 206.4,133.0 206.9,133.4 207.4,133.8 207.9,133.9 208.4,134.3 208.9,133.5 209.4,134.1 209.9,132.5 210.4,133.8 210.9,134.2 211.4,134.1 211.9,133.5 212.4,134.3 212.9,133.4 213.4,133.9 213.9,133.9 214.4,134.1 214.9,133.6 215.4,133.4 215.9,133.9 216.4,134.3 216.9,133.7 217.4,134.0 217.9,133.9 218.4,133.4 218.9,134.3 219.4,134.0 219.9,133.4 220.4,134.3 220.9,133.5 221.4,134.2 221.9,134.3 222.4,133.7 222.9,133.8 223.4,133.8 223.9,133.9 224.4,133.3 224.9,133.5 225.4,133.9 225.9,134.3 226.4,134.3 226.9,134.3 227.4,134.3 227.9,132.8 228.4,133.9 228.9,133.1 229.4,133.6 229.9,133.6 230.4,134.1 230.9,133.6 231.4,133.2 231.9,131.8 231.9,135.0" fill="url(#dz)" stroke="#2a2a2a" stroke-width="0.7" stroke-linejoin="round"/>
<polyline points="136.9,133.5 137.4,133.5 137.9,132.6 138.4,133.3 138.9,132.7 139.4,132.0 139.9,132.3 140.4,132.7 140.9,132.3 141.4,131.3 141.9,131.9 142.4,131.1 142.9,130.9 143.4,130.1 143.9,128.4 144.4,128.4 144.9,126.8 145.4,127.2 145.9,125.4 146.4,123.4 146.9,120.8 147.4,119.6 147.9,116.5 148.4,111.1 148.9,111.3 149.4,106.1 149.9,105.1 150.4,98.9 150.9,99.6 151.4,92.5 151.9,89.8 152.4,87.2 152.9,82.1 153.4,73.6 153.9,69.6 154.4,66.6 154.9,60.3 155.4,62.3 155.9,64.1 156.4,67.5 156.9,64.2 157.4,64.7 157.9,61.4 158.4,65.0 158.9,68.6 159.4,73.4 159.9,75.2 160.4,81.5 160.9,88.3 161.4,98.2 161.9,102.8 162.4,103.3 162.9,108.7 163.4,111.2 163.9,112.4 164.4,115.2 164.9,115.3 165.4,118.6 165.9,119.7 166.4,120.6 166.9,123.3 167.4,122.5 167.9,123.1 168.4,123.2 168.9,124.5 169.4,123.8 169.9,125.3 170.4,123.6 170.9,123.7 171.4,124.6 171.9,123.6 172.4,122.7 172.9,123.8 173.4,123.4 173.9,125.0 174.4,125.4 174.9,125.5 175.4,127.1 175.9,128.2 176.4,128.1 176.9,128.3 177.4,129.1 177.9,128.6 178.4,130.0 178.9,130.2 179.4,132.2 179.9,131.2 180.4,131.0 180.9,132.4 181.4,132.0 181.9,132.3 182.4,132.5 182.9,132.7 183.4,132.5 183.9,133.2 184.4,133.1 184.9,131.4 185.4,132.9 185.9,132.6 186.4,133.1 186.9,133.4 187.4,133.3 187.9,133.3 188.4,133.0 188.9,133.8 189.4,131.8 189.9,133.1 190.4,133.0 190.9,133.2 191.4,132.9 191.9,134.1 192.4,133.4 192.9,132.5 193.4,132.6 193.9,132.6 194.4,133.7 194.9,133.9 195.4,133.1 195.9,133.6 196.4,133.2 196.9,133.5 197.4,134.1 197.9,133.2 198.4,132.8 198.9,133.7 199.4,133.7 199.9,133.8 200.4,133.9 200.9,133.2 201.4,132.6 201.9,134.0 202.4,133.3 202.9,133.0 203.4,133.0 203.9,134.1 204.4,133.7 204.9,133.7 205.4,134.0 205.9,133.3 206.4,133.2 206.9,133.3 207.4,132.2 207.9,133.6 208.4,133.3 208.9,133.8 209.4,133.5 209.9,133.7 210.4,134.1 210.9,134.3 211.4,134.3 211.9,133.9 212.4,133.9 212.9,133.6 213.4,134.3 213.9,134.3 214.4,133.7 214.9,134.3 215.4,132.7 215.9,133.3 216.4,134.1 216.9,133.8 217.4,134.3 217.9,133.2 218.4,133.7 218.9,133.9 219.4,133.6 219.9,134.2 220.4,133.3 220.9,134.0 221.4,133.4 221.9,133.9 222.4,134.2 222.9,134.3 223.4,134.3 223.9,134.3 224.4,134.0 224.9,134.3 225.4,133.9 225.9,133.9 226.4,133.4 226.9,134.1 227.4,134.3 227.9,133.7 228.4,133.8 228.9,133.8 229.4,133.1 229.9,133.7 230.4,132.2 230.9,134.3 231.4,133.2 231.9,131.8" fill="none" stroke="#0a0a0a" stroke-width="1.4" stroke-linejoin="round"/>
<path d="M137.5,135.0 V90.0" stroke="#111" stroke-width="1.3"/>
<path d="M136.3,44.1 V135.0 H232.7" fill="none" stroke="#000" stroke-width="1.1"/>
<path d="M136.3,135.00 h-2.4 M136.3,131.98 h-1.3 M136.3,128.96 h-1.3 M136.3,125.94 h-1.3 M136.3,122.92 h-1.3 M136.3,119.90 h-2.4 M136.3,116.88 h-1.3 M136.3,113.86 h-1.3 M136.3,110.84 h-1.3 M136.3,107.82 h-1.3 M136.3,104.80 h-2.4 M136.3,101.78 h-1.3 M136.3,98.76 h-1.3 M136.3,95.74 h-1.3 M136.3,92.72 h-1.3 M136.3,89.70 h-2.4 M136.3,86.68 h-1.3 M136.3,83.66 h-1.3 M136.3,80.64 h-1.3 M136.3,77.62 h-1.3 M136.3,74.60 h-2.4 M136.3,71.58 h-1.3 M136.3,68.56 h-1.3 M136.3,65.54 h-1.3 M136.3,62.52 h-1.3 M136.3,59.50 h-2.4 M136.3,56.48 h-1.3 M136.3,53.46 h-1.3 M136.3,50.44 h-1.3 M136.3,47.42 h-1.3 M136.3,44.40 h-2.4" stroke="#222" stroke-width="0.6"/>
<path d="M136.30,135.0 v2.0 M143.53,135.0 v1.0 M147.76,135.0 v1.0 M150.76,135.0 v1.0 M153.09,135.0 v1.0 M155.00,135.0 v1.0 M156.60,135.0 v1.0 M158.00,135.0 v1.0 M159.23,135.0 v1.0 M160.33,135.0 v2.0 M167.56,135.0 v1.0 M171.79,135.0 v1.0 M174.79,135.0 v1.0 M177.12,135.0 v1.0 M179.02,135.0 v1.0 M180.63,135.0 v1.0 M182.02,135.0 v1.0 M183.25,135.0 v1.0 M184.35,135.0 v2.0 M191.58,135.0 v1.0 M195.81,135.0 v1.0 M198.81,135.0 v1.0 M201.14,135.0 v1.0 M203.05,135.0 v1.0 M204.65,135.0 v1.0 M206.05,135.0 v1.0 M207.28,135.0 v1.0 M208.38,135.0 v2.0 M215.61,135.0 v1.0 M219.84,135.0 v1.0 M222.84,135.0 v1.0 M225.17,135.0 v1.0 M227.07,135.0 v1.0 M228.68,135.0 v1.0 M230.07,135.0 v1.0 M231.30,135.0 v1.0 M232.40,135.0 v2" stroke="#222" stroke-width="0.5"/>
<text x="132.4" y="142.8" class="tk">10<tspan dy="-2.2" font-size="4">0</tspan></text>
<text x="156.4" y="142.8" class="tk">10<tspan dy="-2.2" font-size="4">1</tspan></text>
<text x="180.5" y="142.8" class="tk">10<tspan dy="-2.2" font-size="4">2</tspan></text>
<text x="204.5" y="142.8" class="tk">10<tspan dy="-2.2" font-size="4">3</tspan></text>
<text x="228.5" y="142.8" class="tk">10<tspan dy="-2.2" font-size="4">4</tspan></text>
<text transform="translate(132.1,135.0) rotate(-90) scale(0.6,0.9)" class="tk" text-anchor="middle">0</text>
<text transform="translate(132.1,119.9) rotate(-90) scale(0.6,0.9)" class="tk" text-anchor="middle">20</text>
<text transform="translate(132.1,104.8) rotate(-90) scale(0.6,0.9)" class="tk" text-anchor="middle">40</text>
<text transform="translate(132.1,89.7) rotate(-90) scale(0.6,0.9)" class="tk" text-anchor="middle">60</text>
<text transform="translate(132.1,74.6) rotate(-90) scale(0.6,0.9)" class="tk" text-anchor="middle">80</text>
<text transform="translate(132.1,59.5) rotate(-90) scale(0.6,0.9)" class="tk" text-anchor="middle">100</text>
<text transform="translate(132.1,44.4) rotate(-90) scale(0.6,0.9)" class="tk" text-anchor="middle">120</text>
</g>
<clipPath id="cp31"><rect x="235.3" y="38.4" width="112.2" height="110.6"/></clipPath>
<g clip-path="url(#cp31)">
<path d="M247.3,44.4 H341.5 V135.0" fill="none" stroke="#505050" stroke-width="0.75"/>
<polygon points="247.9,135.0 247.9,133.7 248.4,133.1 248.9,134.2 249.4,132.7 249.9,132.6 250.4,133.0 250.9,131.5 251.4,131.4 251.9,131.4 252.4,130.9 252.9,130.1 253.4,130.3 253.9,129.9 254.4,130.1 254.9,128.5 255.4,128.7 255.9,129.4 256.4,129.5 256.9,127.1 257.4,128.0 257.9,126.5 258.4,126.0 258.9,125.3 259.4,124.8 259.9,124.9 260.4,123.7 260.9,122.1 261.4,120.4 261.9,119.3 262.4,117.7 262.9,116.9 263.4,113.7 263.9,112.4 264.4,110.3 264.9,108.1 265.4,106.2 265.9,103.8 266.4,102.8 266.9,98.5 267.4,97.9 267.9,92.3 268.4,87.9 268.9,83.2 269.4,77.5 269.9,71.5 270.4,66.6 270.9,59.3 271.4,52.3 271.9,48.4 272.4,50.0 272.9,57.8 273.4,63.4 273.9,67.3 274.4,73.0 274.9,77.9 275.4,84.6 275.9,87.2 276.4,94.2 276.9,96.1 277.4,99.4 277.9,102.9 278.4,108.7 278.9,111.0 279.4,113.8 279.9,118.3 280.4,120.5 280.9,123.8 281.4,125.0 281.9,124.9 282.4,128.4 282.9,127.8 283.4,130.6 283.9,131.4 284.4,130.7 284.9,130.7 285.4,131.0 285.9,132.4 286.4,132.2 286.9,132.2 287.4,132.5 287.9,133.7 288.4,133.0 288.9,133.4 289.4,133.5 289.9,133.7 290.4,133.8 290.9,133.0 291.4,132.2 291.9,133.1 292.4,133.1 292.9,133.9 293.4,133.2 293.9,133.4 294.4,133.1 294.9,133.2 295.4,133.8 295.9,133.3 296.4,133.3 296.9,133.7 297.4,133.7 297.9,133.9 298.4,133.6 298.9,132.7 299.4,133.8 299.9,133.8 300.4,134.0 300.9,133.2 301.4,134.3 301.9,133.0 302.4,133.9 302.9,133.6 303.4,133.4 303.9,134.0 304.4,133.5 304.9,132.6 305.4,132.9 305.9,133.9 306.4,134.3 306.9,133.0 307.4,133.7 307.9,134.3 308.4,134.0 308.9,133.5 309.4,133.1 309.9,132.9 310.4,133.4 310.9,133.6 311.4,132.8 311.9,133.0 312.4,133.9 312.9,133.6 313.4,133.5 313.9,133.6 314.4,133.5 314.9,134.2 315.4,134.3 315.9,134.3 316.4,134.2 316.9,134.2 317.4,134.3 317.9,133.7 318.4,134.3 318.9,134.3 319.4,133.6 319.9,133.2 320.4,134.3 320.9,133.9 321.4,133.9 321.9,133.6 322.4,133.4 322.9,134.3 323.4,134.2 323.9,133.5 324.4,134.2 324.9,134.1 325.4,133.5 325.9,134.3 326.4,134.0 326.9,133.4 327.4,134.0 327.9,133.7 328.4,134.2 328.9,133.1 329.4,134.1 329.9,133.8 330.4,134.2 330.9,133.8 331.4,134.2 331.9,133.9 332.4,133.5 332.9,134.2 333.4,133.7 333.9,134.3 334.4,134.2 334.9,134.2 335.4,134.0 335.9,134.0 336.4,133.0 336.9,134.3 337.4,133.1 337.9,134.3 338.4,133.7 338.9,133.9 339.4,133.9 339.9,133.6 340.4,133.2 340.9,131.8 340.9,135.0" fill="url(#dz)" stroke="#2a2a2a" stroke-width="0.7" stroke-linejoin="round"/>
<polyline points="247.9,133.5 248.4,133.7 248.9,133.3 249.4,132.7 249.9,131.9 250.4,133.4 250.9,133.4 251.4,132.0 251.9,133.4 252.4,132.3 252.9,133.6 253.4,132.5 253.9,131.9 254.4,132.6 254.9,131.9 255.4,131.7 255.9,131.6 256.4,131.3 256.9,131.6 257.4,131.5 257.9,131.1 258.4,131.7 258.9,129.8 259.4,130.1 259.9,130.5 260.4,129.0 260.9,130.1 261.4,128.9 261.9,127.6 262.4,127.0 262.9,124.7 263.4,122.2 263.9,122.1 264.4,120.2 264.9,117.4 265.4,115.0 265.9,110.2 266.4,109.0 266.9,106.6 267.4,104.5 267.9,102.5 268.4,96.1 268.9,91.0 269.4,88.0 269.9,81.0 270.4,73.2 270.9,69.5 271.4,60.1 271.9,53.8 272.4,48.2 272.9,49.5 273.4,54.6 273.9,58.7 274.4,65.5 274.9,69.1 275.4,77.4 275.9,80.9 276.4,82.4 276.9,87.8 277.4,92.0 277.9,94.9 278.4,96.8 278.9,100.9 279.4,105.3 279.9,108.0 280.4,109.3 280.9,113.5 281.4,114.5 281.9,115.8 282.4,120.0 282.9,122.4 283.4,123.5 283.9,125.6 284.4,126.9 284.9,127.0 285.4,127.3 285.9,128.5 286.4,128.5 286.9,129.9 287.4,130.3 287.9,130.9 288.4,131.7 288.9,130.4 289.4,132.1 289.9,131.7 290.4,132.5 290.9,132.4 291.4,131.9 291.9,133.0 292.4,132.3 292.9,133.0 293.4,132.6 293.9,132.6 294.4,131.9 294.9,133.9 295.4,133.3 295.9,133.0 296.4,133.8 296.9,133.1 297.4,132.9 297.9,132.7 298.4,133.2 298.9,133.2 299.4,132.8 299.9,132.3 300.4,133.1 300.9,133.2 301.4,133.0 301.9,132.8 302.4,132.8 302.9,133.0 303.4,133.9 303.9,133.4 304.4,132.6 304.9,133.6 305.4,132.7 305.9,134.3 306.4,133.2 306.9,133.4 307.4,133.2 307.9,133.5 308.4,133.5 308.9,133.5 309.4,133.4 309.9,132.9 310.4,133.3 310.9,133.0 311.4,133.3 311.9,131.9 312.4,131.9 312.9,133.4 313.4,133.5 313.9,133.8 314.4,133.5 314.9,133.7 315.4,133.1 315.9,133.5 316.4,133.6 316.9,133.9 317.4,133.0 317.9,134.0 318.4,133.5 318.9,132.2 319.4,134.0 319.9,133.3 320.4,133.0 320.9,133.4 321.4,133.8 321.9,134.2 322.4,133.5 322.9,132.5 323.4,133.9 323.9,134.3 324.4,134.3 324.9,134.3 325.4,134.1 325.9,134.2 326.4,134.3 326.9,134.2 327.4,133.7 327.9,133.6 328.4,133.8 328.9,132.6 329.4,134.1 329.9,132.4 330.4,133.1 330.9,134.1 331.4,133.2 331.9,133.6 332.4,133.8 332.9,133.9 333.4,134.3 333.9,134.2 334.4,133.8 334.9,133.9 335.4,133.7 335.9,133.9 336.4,133.4 336.9,134.3 337.4,133.9 337.9,134.3 338.4,134.3 338.9,134.1 339.4,133.6 339.9,133.5 340.4,133.2 340.9,131.8" fill="none" stroke="#0a0a0a" stroke-width="1.4" stroke-linejoin="round"/>
<path d="M248.5,135.0 V105.0" stroke="#111" stroke-width="1.3"/>
<path d="M247.3,44.1 V135.0 H341.8" fill="none" stroke="#000" stroke-width="1.1"/>
<path d="M247.3,135.00 h-2.4 M247.3,131.98 h-1.3 M247.3,128.96 h-1.3 M247.3,125.94 h-1.3 M247.3,122.92 h-1.3 M247.3,119.90 h-2.4 M247.3,116.88 h-1.3 M247.3,113.86 h-1.3 M247.3,110.84 h-1.3 M247.3,107.82 h-1.3 M247.3,104.80 h-2.4 M247.3,101.78 h-1.3 M247.3,98.76 h-1.3 M247.3,95.74 h-1.3 M247.3,92.72 h-1.3 M247.3,89.70 h-2.4 M247.3,86.68 h-1.3 M247.3,83.66 h-1.3 M247.3,80.64 h-1.3 M247.3,77.62 h-1.3 M247.3,74.60 h-2.4 M247.3,71.58 h-1.3 M247.3,68.56 h-1.3 M247.3,65.54 h-1.3 M247.3,62.52 h-1.3 M247.3,59.50 h-2.4 M247.3,56.48 h-1.3 M247.3,53.46 h-1.3 M247.3,50.44 h-1.3 M247.3,47.42 h-1.3 M247.3,44.40 h-2.4" stroke="#222" stroke-width="0.6"/>
<path d="M247.30,135.0 v2.0 M254.39,135.0 v1.0 M258.54,135.0 v1.0 M261.48,135.0 v1.0 M263.76,135.0 v1.0 M265.63,135.0 v1.0 M267.20,135.0 v1.0 M268.57,135.0 v1.0 M269.77,135.0 v1.0 M270.85,135.0 v2.0 M277.94,135.0 v1.0 M282.09,135.0 v1.0 M285.03,135.0 v1.0 M287.31,135.0 v1.0 M289.18,135.0 v1.0 M290.75,135.0 v1.0 M292.12,135.0 v1.0 M293.32,135.0 v1.0 M294.40,135.0 v2.0 M301.49,135.0 v1.0 M305.64,135.0 v1.0 M308.58,135.0 v1.0 M310.86,135.0 v1.0 M312.73,135.0 v1.0 M314.30,135.0 v1.0 M315.67,135.0 v1.0 M316.87,135.0 v1.0 M317.95,135.0 v2.0 M325.04,135.0 v1.0 M329.19,135.0 v1.0 M332.13,135.0 v1.0 M334.41,135.0 v1.0 M336.28,135.0 v1.0 M337.85,135.0 v1.0 M339.22,135.0 v1.0 M340.42,135.0 v1.0 M341.50,135.0 v2" stroke="#222" stroke-width="0.5"/>
<text x="243.4" y="142.8" class="tk">10<tspan dy="-2.2" font-size="4">0</tspan></text>
<text x="267.0" y="142.8" class="tk">10<tspan dy="-2.2" font-size="4">1</tspan></text>
<text x="290.5" y="142.8" class="tk">10<tspan dy="-2.2" font-size="4">2</tspan></text>
<text x="314.1" y="142.8" class="tk">10<tspan dy="-2.2" font-size="4">3</tspan></text>
<text x="337.6" y="142.8" class="tk">10<tspan dy="-2.2" font-size="4">4</tspan></text>
<text transform="translate(243.1,135.0) rotate(-90) scale(0.6,0.9)" class="tk" text-anchor="middle">0</text>
<text transform="translate(243.1,119.9) rotate(-90) scale(0.6,0.9)" class="tk" text-anchor="middle">20</text>
<text transform="translate(243.1,104.8) rotate(-90) scale(0.6,0.9)" class="tk" text-anchor="middle">40</text>
<text transform="translate(243.1,89.7) rotate(-90) scale(0.6,0.9)" class="tk" text-anchor="middle">60</text>
<text transform="translate(243.1,74.6) rotate(-90) scale(0.6,0.9)" class="tk" text-anchor="middle">80</text>
<text transform="translate(243.1,59.5) rotate(-90) scale(0.6,0.9)" class="tk" text-anchor="middle">100</text>
<text transform="translate(243.1,44.4) rotate(-90) scale(0.6,0.9)" class="tk" text-anchor="middle">120</text>
</g>
<clipPath id="cp41"><rect x="347.0" y="39.0" width="109.3" height="110.8"/></clipPath>
<g clip-path="url(#cp41)">
<path d="M359.0,45.0 H455.5 V135.8" fill="none" stroke="#505050" stroke-width="0.75"/>
<polygon points="359.6,135.8 359.6,135.0 360.1,133.7 360.6,133.7 361.1,133.6 361.6,132.7 362.1,132.8 362.6,132.5 363.1,131.2 363.6,132.3 364.1,131.7 364.6,130.7 365.1,130.6 365.6,130.6 366.1,129.7 366.6,129.3 367.1,128.1 367.6,128.8 368.1,128.0 368.6,127.4 369.1,125.4 369.6,126.8 370.1,124.9 370.6,123.5 371.1,124.4 371.6,121.7 372.1,119.3 372.6,118.9 373.1,115.5 373.6,116.6 374.1,112.6 374.6,109.4 375.1,108.8 375.6,102.2 376.1,101.7 376.6,94.5 377.1,91.9 377.6,86.4 378.1,84.9 378.6,79.0 379.1,70.2 379.6,68.0 380.1,70.3 380.6,76.7 381.1,79.9 381.6,82.8 382.1,86.7 382.6,93.2 383.1,98.7 383.6,99.1 384.1,100.9 384.6,107.0 385.1,107.8 385.6,110.3 386.1,112.7 386.6,114.4 387.1,116.3 387.6,117.1 388.1,120.5 388.6,121.2 389.1,123.1 389.6,122.4 390.1,121.8 390.6,123.6 391.1,125.4 391.6,124.1 392.1,123.9 392.6,123.8 393.1,124.0 393.6,124.6 394.1,124.0 394.6,126.1 395.1,125.2 395.6,126.1 396.1,127.7 396.6,128.5 397.1,128.0 397.6,128.9 398.1,129.7 398.6,129.7 399.1,129.3 399.6,131.1 400.1,131.5 400.6,131.5 401.1,131.0 401.6,131.6 402.1,131.6 402.6,132.0 403.1,132.9 403.6,133.2 404.1,132.9 404.6,133.0 405.1,133.1 405.6,132.9 406.1,133.0 406.6,132.8 407.1,133.2 407.6,134.4 408.1,133.8 408.6,132.9 409.1,133.3 409.6,133.2 410.1,133.9 410.6,133.9 411.1,133.2 411.6,134.1 412.1,133.1 412.6,134.6 413.1,134.0 413.6,134.8 414.1,133.4 414.6,133.9 415.1,134.2 415.6,134.5 416.1,134.3 416.6,133.5 417.1,134.2 417.6,134.1 418.1,133.9 418.6,133.8 419.1,134.9 419.6,134.0 420.1,133.8 420.6,134.5 421.1,134.3 421.6,134.2 422.1,134.6 422.6,134.5 423.1,133.5 423.6,134.7 424.1,134.4 424.6,134.0 425.1,134.2 425.6,134.1 426.1,134.4 426.6,133.9 427.1,133.6 427.6,134.4 428.1,133.8 428.6,133.6 429.1,134.6 429.6,134.1 430.1,134.7 430.6,134.2 431.1,134.0 431.6,134.0 432.1,134.3 432.6,134.4 433.1,134.2 433.6,134.4 434.1,133.9 434.6,134.6 435.1,133.8 435.6,134.5 436.1,134.9 436.6,135.1 437.1,135.1 437.6,134.0 438.1,135.0 438.6,135.1 439.1,134.8 439.6,134.3 440.1,134.9 440.6,135.1 441.1,134.1 441.6,135.0 442.1,135.1 442.6,134.5 443.1,135.1 443.6,134.3 444.1,134.5 444.6,134.4 445.1,134.9 445.6,134.8 446.1,134.3 446.6,134.4 447.1,134.7 447.6,135.1 448.1,135.0 448.6,134.2 449.1,135.1 449.6,133.1 450.1,135.0 450.6,134.9 451.1,135.1 451.6,134.9 452.1,134.0 452.6,134.2 453.1,135.1 453.6,134.7 454.1,135.1 454.6,134.0 455.1,132.6 455.1,135.8" fill="url(#dz)" stroke="#2a2a2a" stroke-width="0.7" stroke-linejoin="round"/>
<polyline points="359.6,134.3 360.1,134.5 360.6,133.0 361.1,133.2 361.6,132.7 362.1,134.7 362.6,134.2 363.1,134.3 363.6,133.4 364.1,133.3 364.6,132.1 365.1,133.4 365.6,131.6 366.1,131.6 366.6,131.5 367.1,131.0 367.6,131.5 368.1,130.6 368.6,130.3 369.1,129.8 369.6,130.2 370.1,128.5 370.6,128.2 371.1,127.8 371.6,125.6 372.1,125.5 372.6,125.2 373.1,124.4 373.6,122.1 374.1,119.8 374.6,120.0 375.1,116.6 375.6,114.9 376.1,113.0 376.6,110.5 377.1,107.3 377.6,105.8 378.1,100.8 378.6,98.8 379.1,96.0 379.6,92.5 380.1,90.7 380.6,87.5 381.1,83.5 381.6,79.1 382.1,76.1 382.6,74.1 383.1,69.5 383.6,64.2 384.1,64.4 384.6,64.2 385.1,68.0 385.6,74.7 386.1,76.3 386.6,83.8 387.1,86.5 387.6,88.2 388.1,90.5 388.6,96.2 389.1,100.4 389.6,101.9 390.1,107.0 390.6,108.0 391.1,111.0 391.6,112.1 392.1,115.1 392.6,116.5 393.1,116.5 393.6,121.6 394.1,120.3 394.6,121.4 395.1,123.2 395.6,123.0 396.1,123.9 396.6,124.7 397.1,124.3 397.6,127.0 398.1,127.0 398.6,127.1 399.1,128.7 399.6,128.9 400.1,128.6 400.6,129.8 401.1,130.1 401.6,130.6 402.1,131.0 402.6,131.5 403.1,130.8 403.6,131.7 404.1,131.5 404.6,132.4 405.1,131.7 405.6,131.4 406.1,132.3 406.6,133.9 407.1,133.4 407.6,132.9 408.1,134.2 408.6,133.0 409.1,133.1 409.6,133.6 410.1,133.5 410.6,133.3 411.1,133.2 411.6,132.9 412.1,134.0 412.6,132.9 413.1,133.3 413.6,134.2 414.1,134.8 414.6,132.8 415.1,133.8 415.6,134.1 416.1,133.6 416.6,133.4 417.1,134.3 417.6,133.5 418.1,133.4 418.6,132.2 419.1,133.2 419.6,132.7 420.1,134.4 420.6,134.7 421.1,133.8 421.6,133.8 422.1,134.2 422.6,133.8 423.1,133.2 423.6,133.5 424.1,133.4 424.6,133.9 425.1,132.4 425.6,133.5 426.1,134.6 426.6,133.5 427.1,134.7 427.6,134.4 428.1,133.8 428.6,134.1 429.1,133.6 429.6,134.4 430.1,134.4 430.6,135.0 431.1,134.8 431.6,133.9 432.1,134.3 432.6,134.0 433.1,134.2 433.6,134.5 434.1,133.4 434.6,134.5 435.1,134.5 435.6,134.4 436.1,133.1 436.6,134.3 437.1,134.3 437.6,134.6 438.1,133.6 438.6,134.5 439.1,134.9 439.6,134.3 440.1,134.3 440.6,133.8 441.1,135.1 441.6,135.1 442.1,135.1 442.6,134.8 443.1,135.1 443.6,135.1 444.1,134.4 444.6,135.0 445.1,133.8 445.6,134.5 446.1,135.0 446.6,135.1 447.1,135.1 447.6,134.8 448.1,134.3 448.6,135.1 449.1,134.7 449.6,134.0 450.1,134.7 450.6,134.9 451.1,134.6 451.6,134.8 452.1,134.2 452.6,135.1 453.1,135.1 453.6,134.2 454.1,134.8 454.6,134.0 455.1,132.6" fill="none" stroke="#0a0a0a" stroke-width="1.4" stroke-linejoin="round"/>
<path d="M360.2,135.8 V104.0" stroke="#111" stroke-width="1.3"/>
<path d="M359.0,44.7 V135.8 H455.8" fill="none" stroke="#000" stroke-width="1.1"/>
<path d="M359.0,135.80 h-2.4 M359.0,132.77 h-1.3 M359.0,129.75 h-1.3 M359.0,126.72 h-1.3 M359.0,123.69 h-1.3 M359.0,120.67 h-2.4 M359.0,117.64 h-1.3 M359.0,114.61 h-1.3 M359.0,111.59 h-1.3 M359.0,108.56 h-1.3 M359.0,105.53 h-2.4 M359.0,102.51 h-1.3 M359.0,99.48 h-1.3 M359.0,96.45 h-1.3 M359.0,93.43 h-1.3 M359.0,90.40 h-2.4 M359.0,87.37 h-1.3 M359.0,84.35 h-1.3 M359.0,81.32 h-1.3 M359.0,78.29 h-1.3 M359.0,75.27 h-2.4 M359.0,72.24 h-1.3 M359.0,69.21 h-1.3 M359.0,66.19 h-1.3 M359.0,63.16 h-1.3 M359.0,60.13 h-2.4 M359.0,57.11 h-1.3 M359.0,54.08 h-1.3 M359.0,51.05 h-1.3 M359.0,48.03 h-1.3 M359.0,45.00 h-2.4" stroke="#222" stroke-width="0.6"/>
<path d="M359.00,135.8 v2.0 M366.26,135.8 v1.0 M370.51,135.8 v1.0 M373.52,135.8 v1.0 M375.86,135.8 v1.0 M377.77,135.8 v1.0 M379.39,135.8 v1.0 M380.79,135.8 v1.0 M382.02,135.8 v1.0 M383.12,135.8 v2.0 M390.39,135.8 v1.0 M394.64,135.8 v1.0 M397.65,135.8 v1.0 M399.99,135.8 v1.0 M401.90,135.8 v1.0 M403.51,135.8 v1.0 M404.91,135.8 v1.0 M406.15,135.8 v1.0 M407.25,135.8 v2.0 M414.51,135.8 v1.0 M418.76,135.8 v1.0 M421.77,135.8 v1.0 M424.11,135.8 v1.0 M426.02,135.8 v1.0 M427.64,135.8 v1.0 M429.04,135.8 v1.0 M430.27,135.8 v1.0 M431.38,135.8 v2.0 M438.64,135.8 v1.0 M442.89,135.8 v1.0 M445.90,135.8 v1.0 M448.24,135.8 v1.0 M450.15,135.8 v1.0 M451.76,135.8 v1.0 M453.16,135.8 v1.0 M454.40,135.8 v1.0 M455.50,135.8 v2" stroke="#222" stroke-width="0.5"/>
<text x="355.1" y="143.6" class="tk">10<tspan dy="-2.2" font-size="4">0</tspan></text>
<text x="379.2" y="143.6" class="tk">10<tspan dy="-2.2" font-size="4">1</tspan></text>
<text x="403.4" y="143.6" class="tk">10<tspan dy="-2.2" font-size="4">2</tspan></text>
<text x="427.5" y="143.6" class="tk">10<tspan dy="-2.2" font-size="4">3</tspan></text>
<text x="451.6" y="143.6" class="tk">10<tspan dy="-2.2" font-size="4">4</tspan></text>
<text transform="translate(354.8,135.8) rotate(-90) scale(0.6,0.9)" class="tk" text-anchor="middle">0</text>
<text transform="translate(354.8,120.7) rotate(-90) scale(0.6,0.9)" class="tk" text-anchor="middle">20</text>
<text transform="translate(354.8,105.5) rotate(-90) scale(0.6,0.9)" class="tk" text-anchor="middle">40</text>
<text transform="translate(354.8,90.4) rotate(-90) scale(0.6,0.9)" class="tk" text-anchor="middle">60</text>
<text transform="translate(354.8,75.3) rotate(-90) scale(0.6,0.9)" class="tk" text-anchor="middle">80</text>
<text transform="translate(354.8,60.1) rotate(-90) scale(0.6,0.9)" class="tk" text-anchor="middle">100</text>
<text transform="translate(354.8,45.0) rotate(-90) scale(0.6,0.9)" class="tk" text-anchor="middle">120</text>
</g>
<clipPath id="cp12"><rect x="12.2" y="144.5" width="113.4" height="111.0"/></clipPath>
<g clip-path="url(#cp12)">
<path d="M24.2,150.5 H119.6 V241.5" fill="none" stroke="#505050" stroke-width="0.75"/>
<polygon points="24.8,241.5 24.8,240.0 25.3,239.7 25.8,239.1 26.3,239.3 26.8,238.9 27.3,238.5 27.8,237.7 28.3,237.9 28.8,237.7 29.3,237.1 29.8,237.5 30.3,237.7 30.8,236.6 31.3,236.5 31.8,236.8 32.3,235.7 32.8,236.0 33.3,234.1 33.8,234.1 34.3,234.5 34.8,233.6 35.3,232.7 35.8,232.7 36.3,231.6 36.8,230.8 37.3,229.0 37.8,227.8 38.3,225.8 38.8,222.5 39.3,217.4 39.8,215.4 40.3,215.1 40.8,205.3 41.3,204.0 41.8,200.9 42.3,196.4 42.8,189.4 43.3,179.3 43.8,167.7 44.3,155.6 44.8,155.9 45.3,159.2 45.8,159.3 46.3,160.0 46.8,158.3 47.3,157.3 47.8,163.0 48.3,164.9 48.8,169.1 49.3,176.9 49.8,181.7 50.3,192.4 50.8,199.6 51.3,203.3 51.8,207.1 52.3,214.8 52.8,218.9 53.3,223.4 53.8,227.9 54.3,228.1 54.8,231.1 55.3,229.3 55.8,229.2 56.3,231.6 56.8,232.6 57.3,233.9 57.8,233.0 58.3,233.5 58.8,234.0 59.3,236.0 59.8,233.8 60.3,235.4 60.8,235.6 61.3,235.4 61.8,236.0 62.3,236.7 62.8,236.4 63.3,237.2 63.8,237.8 64.3,238.1 64.8,237.7 65.3,238.0 65.8,238.3 66.3,238.9 66.8,238.7 67.3,239.3 67.8,239.1 68.3,238.2 68.8,239.6 69.3,238.9 69.8,239.5 70.3,239.3 70.8,239.8 71.3,239.5 71.8,239.6 72.3,238.9 72.8,240.3 73.3,239.8 73.8,239.7 74.3,239.0 74.8,239.7 75.3,240.1 75.8,240.3 76.3,240.1 76.8,239.7 77.3,239.6 77.8,240.6 78.3,240.7 78.8,240.5 79.3,240.4 79.8,240.7 80.3,240.8 80.8,240.5 81.3,240.7 81.8,240.7 82.3,240.1 82.8,240.7 83.3,239.9 83.8,239.3 84.3,240.6 84.8,240.2 85.3,240.8 85.8,239.8 86.3,240.8 86.8,240.2 87.3,240.5 87.8,239.9 88.3,240.8 88.8,240.2 89.3,240.8 89.8,240.3 90.3,239.8 90.8,240.0 91.3,240.8 91.8,240.1 92.3,240.4 92.8,240.8 93.3,240.8 93.8,239.0 94.3,240.3 94.8,240.8 95.3,240.2 95.8,240.8 96.3,240.5 96.8,239.9 97.3,240.6 97.8,240.2 98.3,240.5 98.8,240.1 99.3,240.7 99.8,240.4 100.3,240.1 100.8,240.0 101.3,240.4 101.8,240.8 102.3,240.8 102.8,240.8 103.3,240.8 103.8,239.5 104.3,240.7 104.8,240.8 105.3,239.7 105.8,240.8 106.3,240.3 106.8,240.8 107.3,240.4 107.8,240.1 108.3,239.1 108.8,240.8 109.3,240.0 109.8,240.1 110.3,239.8 110.8,240.8 111.3,240.8 111.8,240.2 112.3,239.7 112.8,240.2 113.3,240.2 113.8,238.8 114.3,240.7 114.8,239.8 115.3,240.4 115.8,240.7 116.3,240.7 116.8,240.6 117.3,240.2 117.8,240.4 118.3,239.7 118.8,238.3 118.8,241.5" fill="url(#dz)" stroke="#2a2a2a" stroke-width="0.7" stroke-linejoin="round"/>
<polyline points="24.8,240.7 25.3,240.3 25.8,239.2 26.3,239.8 26.8,240.0 27.3,239.3 27.8,239.5 28.3,239.2 28.8,238.9 29.3,238.5 29.8,238.5 30.3,238.5 30.8,237.0 31.3,237.6 31.8,236.8 32.3,236.5 32.8,235.0 33.3,235.1 33.8,235.2 34.3,232.7 34.8,231.2 35.3,230.2 35.8,230.5 36.3,230.6 36.8,227.9 37.3,226.4 37.8,222.5 38.3,220.5 38.8,215.1 39.3,212.8 39.8,208.5 40.3,204.5 40.8,201.1 41.3,195.4 41.8,191.7 42.3,183.3 42.8,176.5 43.3,166.9 43.8,160.5 44.3,156.0 44.8,158.6 45.3,159.5 45.8,159.2 46.3,159.4 46.8,158.4 47.3,158.8 47.8,159.1 48.3,162.7 48.8,167.1 49.3,170.7 49.8,177.1 50.3,185.7 50.8,194.4 51.3,202.1 51.8,206.7 52.3,209.6 52.8,215.7 53.3,217.1 53.8,219.4 54.3,222.3 54.8,225.0 55.3,226.6 55.8,229.4 56.3,229.2 56.8,230.6 57.3,231.1 57.8,232.8 58.3,231.7 58.8,233.0 59.3,233.6 59.8,234.3 60.3,234.8 60.8,234.7 61.3,235.8 61.8,235.7 62.3,237.2 62.8,235.2 63.3,236.7 63.8,236.0 64.3,236.4 64.8,238.1 65.3,238.2 65.8,236.5 66.3,237.5 66.8,237.7 67.3,236.8 67.8,238.0 68.3,238.4 68.8,238.4 69.3,237.5 69.8,239.1 70.3,238.8 70.8,238.7 71.3,238.5 71.8,239.3 72.3,239.5 72.8,238.9 73.3,239.3 73.8,239.7 74.3,238.5 74.8,239.5 75.3,237.8 75.8,239.2 76.3,239.2 76.8,239.7 77.3,239.6 77.8,239.7 78.3,240.3 78.8,239.3 79.3,239.6 79.8,240.1 80.3,239.8 80.8,240.8 81.3,239.7 81.8,239.9 82.3,238.8 82.8,239.9 83.3,240.1 83.8,240.2 84.3,239.4 84.8,239.8 85.3,239.5 85.8,240.7 86.3,240.8 86.8,240.7 87.3,240.3 87.8,240.6 88.3,240.2 88.8,240.8 89.3,240.5 89.8,240.1 90.3,239.7 90.8,239.9 91.3,240.4 91.8,239.7 92.3,240.1 92.8,240.8 93.3,240.3 93.8,239.9 94.3,240.8 94.8,240.2 95.3,239.7 95.8,240.3 96.3,240.1 96.8,239.1 97.3,240.5 97.8,239.8 98.3,240.2 98.8,240.3 99.3,240.8 99.8,240.6 100.3,240.6 100.8,240.8 101.3,240.6 101.8,240.3 102.3,240.4 102.8,240.1 103.3,240.7 103.8,240.8 104.3,239.2 104.8,240.8 105.3,240.5 105.8,239.5 106.3,240.8 106.8,239.5 107.3,239.1 107.8,240.4 108.3,240.2 108.8,240.6 109.3,240.3 109.8,238.5 110.3,240.1 110.8,240.8 111.3,240.7 111.8,240.2 112.3,240.4 112.8,239.4 113.3,240.8 113.8,240.1 114.3,240.4 114.8,239.9 115.3,240.2 115.8,240.7 116.3,240.8 116.8,240.8 117.3,240.6 117.8,240.6 118.3,239.7 118.8,238.3" fill="none" stroke="#0a0a0a" stroke-width="1.4" stroke-linejoin="round"/>
<path d="M25.4,241.5 V176.0" stroke="#111" stroke-width="1.3"/>
<path d="M24.2,150.2 V241.5 H119.9" fill="none" stroke="#000" stroke-width="1.1"/>
<path d="M24.2,241.50 h-2.4 M24.2,238.47 h-1.3 M24.2,235.43 h-1.3 M24.2,232.40 h-1.3 M24.2,229.37 h-1.3 M24.2,226.33 h-2.4 M24.2,223.30 h-1.3 M24.2,220.27 h-1.3 M24.2,217.23 h-1.3 M24.2,214.20 h-1.3 M24.2,211.17 h-2.4 M24.2,208.13 h-1.3 M24.2,205.10 h-1.3 M24.2,202.07 h-1.3 M24.2,199.03 h-1.3 M24.2,196.00 h-2.4 M24.2,192.97 h-1.3 M24.2,189.93 h-1.3 M24.2,186.90 h-1.3 M24.2,183.87 h-1.3 M24.2,180.83 h-2.4 M24.2,177.80 h-1.3 M24.2,174.77 h-1.3 M24.2,171.73 h-1.3 M24.2,168.70 h-1.3 M24.2,165.67 h-2.4 M24.2,162.63 h-1.3 M24.2,159.60 h-1.3 M24.2,156.57 h-1.3 M24.2,153.53 h-1.3 M24.2,150.50 h-2.4" stroke="#222" stroke-width="0.6"/>
<path d="M24.20,241.5 v2.0 M31.38,241.5 v1.0 M35.58,241.5 v1.0 M38.56,241.5 v1.0 M40.87,241.5 v1.0 M42.76,241.5 v1.0 M44.36,241.5 v1.0 M45.74,241.5 v1.0 M46.96,241.5 v1.0 M48.05,241.5 v2.0 M55.23,241.5 v1.0 M59.43,241.5 v1.0 M62.41,241.5 v1.0 M64.72,241.5 v1.0 M66.61,241.5 v1.0 M68.21,241.5 v1.0 M69.59,241.5 v1.0 M70.81,241.5 v1.0 M71.90,241.5 v2.0 M79.08,241.5 v1.0 M83.28,241.5 v1.0 M86.26,241.5 v1.0 M88.57,241.5 v1.0 M90.46,241.5 v1.0 M92.06,241.5 v1.0 M93.44,241.5 v1.0 M94.66,241.5 v1.0 M95.75,241.5 v2.0 M102.93,241.5 v1.0 M107.13,241.5 v1.0 M110.11,241.5 v1.0 M112.42,241.5 v1.0 M114.31,241.5 v1.0 M115.91,241.5 v1.0 M117.29,241.5 v1.0 M118.51,241.5 v1.0 M119.60,241.5 v2" stroke="#222" stroke-width="0.5"/>
<text x="20.3" y="249.3" class="tk">10<tspan dy="-2.2" font-size="4">0</tspan></text>
<text x="44.1" y="249.3" class="tk">10<tspan dy="-2.2" font-size="4">1</tspan></text>
<text x="68.0" y="249.3" class="tk">10<tspan dy="-2.2" font-size="4">2</tspan></text>
<text x="91.8" y="249.3" class="tk">10<tspan dy="-2.2" font-size="4">3</tspan></text>
<text x="115.7" y="249.3" class="tk">10<tspan dy="-2.2" font-size="4">4</tspan></text>
<text transform="translate(20.0,241.5) rotate(-90) scale(0.6,0.9)" class="tk" text-anchor="middle">0</text>
<text transform="translate(20.0,226.3) rotate(-90) scale(0.6,0.9)" class="tk" text-anchor="middle">20</text>
<text transform="translate(20.0,211.2) rotate(-90) scale(0.6,0.9)" class="tk" text-anchor="middle">40</text>
<text transform="translate(20.0,196.0) rotate(-90) scale(0.6,0.9)" class="tk" text-anchor="middle">60</text>
<text transform="translate(20.0,180.8) rotate(-90) scale(0.6,0.9)" class="tk" text-anchor="middle">80</text>
<text transform="translate(20.0,165.7) rotate(-90) scale(0.6,0.9)" class="tk" text-anchor="middle">100</text>
<text transform="translate(20.0,150.5) rotate(-90) scale(0.6,0.9)" class="tk" text-anchor="middle">120</text>
</g>
<clipPath id="cp22"><rect x="123.4" y="145.0" width="108.7" height="111.0"/></clipPath>
<g clip-path="url(#cp22)">
<path d="M135.4,151.0 H231.3 V242.0" fill="none" stroke="#505050" stroke-width="0.75"/>
<polygon points="136.0,242.0 136.0,241.3 136.5,240.3 137.0,240.0 137.5,238.8 138.0,239.6 138.5,239.1 139.0,238.6 139.5,238.7 140.0,238.4 140.5,237.3 141.0,237.0 141.5,236.9 142.0,237.2 142.5,236.9 143.0,235.5 143.5,235.3 144.0,236.1 144.5,236.3 145.0,235.0 145.5,234.3 146.0,235.1 146.5,234.0 147.0,234.3 147.5,234.5 148.0,233.4 148.5,232.2 149.0,231.2 149.5,228.4 150.0,226.8 150.5,224.1 151.0,221.6 151.5,218.2 152.0,215.2 152.5,211.4 153.0,208.1 153.5,203.9 154.0,199.5 154.5,195.5 155.0,184.8 155.5,181.1 156.0,172.1 156.5,165.2 157.0,162.9 157.5,161.3 158.0,162.7 158.5,161.1 159.0,162.3 159.5,165.4 160.0,168.0 160.5,174.4 161.0,180.9 161.5,186.2 162.0,194.7 162.5,201.4 163.0,207.8 163.5,213.4 164.0,219.4 164.5,220.8 165.0,224.6 165.5,227.3 166.0,227.5 166.5,231.2 167.0,230.9 167.5,232.5 168.0,234.8 168.5,233.6 169.0,234.5 169.5,236.4 170.0,235.4 170.5,236.2 171.0,237.3 171.5,237.7 172.0,238.1 172.5,238.4 173.0,239.2 173.5,239.3 174.0,239.3 174.5,238.8 175.0,239.0 175.5,238.6 176.0,238.9 176.5,238.9 177.0,240.3 177.5,240.9 178.0,239.3 178.5,238.9 179.0,240.0 179.5,240.7 180.0,239.9 180.5,240.3 181.0,240.1 181.5,240.2 182.0,240.9 182.5,239.6 183.0,240.4 183.5,240.5 184.0,240.8 184.5,239.8 185.0,240.9 185.5,240.6 186.0,240.8 186.5,240.5 187.0,239.7 187.5,240.2 188.0,240.8 188.5,240.5 189.0,240.5 189.5,241.3 190.0,240.8 190.5,240.5 191.0,241.3 191.5,239.7 192.0,239.6 192.5,240.9 193.0,240.5 193.5,240.8 194.0,240.8 194.5,240.6 195.0,240.9 195.5,240.7 196.0,240.0 196.5,240.7 197.0,239.8 197.5,241.3 198.0,240.2 198.5,240.7 199.0,239.5 199.5,240.6 200.0,241.3 200.5,240.9 201.0,240.5 201.5,240.8 202.0,241.1 202.5,240.3 203.0,240.7 203.5,241.3 204.0,241.2 204.5,240.8 205.0,240.6 205.5,240.8 206.0,240.2 206.5,240.9 207.0,241.0 207.5,240.9 208.0,239.6 208.5,240.6 209.0,241.1 209.5,241.0 210.0,240.7 210.5,241.1 211.0,241.3 211.5,240.7 212.0,240.7 212.5,240.6 213.0,240.5 213.5,241.3 214.0,241.2 214.5,241.1 215.0,239.7 215.5,240.6 216.0,241.0 216.5,240.8 217.0,241.1 217.5,240.7 218.0,241.3 218.5,241.3 219.0,241.3 219.5,241.3 220.0,241.0 220.5,241.3 221.0,240.8 221.5,240.0 222.0,240.8 222.5,240.8 223.0,240.7 223.5,241.3 224.0,241.1 224.5,241.1 225.0,240.5 225.5,241.1 226.0,240.4 226.5,240.7 227.0,240.9 227.5,239.8 228.0,241.0 228.5,240.3 229.0,240.4 229.5,241.0 230.0,240.2 230.5,238.8 230.5,242.0" fill="url(#dz)" stroke="#2a2a2a" stroke-width="0.7" stroke-linejoin="round"/>
<polyline points="136.0,240.8 136.5,240.2 137.0,240.5 137.5,239.4 138.0,240.5 138.5,239.5 139.0,240.1 139.5,240.0 140.0,239.6 140.5,241.2 141.0,239.5 141.5,239.8 142.0,240.0 142.5,238.7 143.0,239.8 143.5,238.9 144.0,239.3 144.5,238.1 145.0,237.9 145.5,238.8 146.0,238.3 146.5,237.8 147.0,237.8 147.5,237.4 148.0,236.0 148.5,235.0 149.0,234.8 149.5,234.3 150.0,233.6 150.5,234.2 151.0,234.0 151.5,233.9 152.0,233.8 152.5,233.0 153.0,232.7 153.5,232.5 154.0,231.3 154.5,231.0 155.0,231.0 155.5,229.9 156.0,229.3 156.5,228.8 157.0,229.1 157.5,227.0 158.0,224.7 158.5,222.3 159.0,220.3 159.5,219.8 160.0,210.1 160.5,211.9 161.0,208.9 161.5,207.1 162.0,201.8 162.5,203.4 163.0,199.3 163.5,195.3 164.0,193.1 164.5,190.0 165.0,189.3 165.5,187.5 166.0,187.5 166.5,184.9 167.0,180.0 167.5,175.0 168.0,178.5 168.5,183.7 169.0,183.4 169.5,187.8 170.0,186.5 170.5,190.2 171.0,195.9 171.5,200.6 172.0,205.8 172.5,207.0 173.0,215.8 173.5,219.3 174.0,219.9 174.5,222.8 175.0,225.1 175.5,227.5 176.0,229.0 176.5,230.4 177.0,232.8 177.5,234.2 178.0,236.1 178.5,235.2 179.0,235.3 179.5,237.2 180.0,237.4 180.5,238.2 181.0,238.1 181.5,237.9 182.0,238.4 182.5,239.3 183.0,239.2 183.5,238.7 184.0,239.7 184.5,238.7 185.0,239.2 185.5,239.7 186.0,239.0 186.5,239.2 187.0,239.8 187.5,239.8 188.0,239.8 188.5,239.7 189.0,239.5 189.5,239.6 190.0,241.3 190.5,239.7 191.0,240.7 191.5,239.8 192.0,240.7 192.5,240.7 193.0,240.3 193.5,239.8 194.0,239.5 194.5,240.6 195.0,239.6 195.5,238.5 196.0,240.9 196.5,240.9 197.0,240.3 197.5,240.2 198.0,240.0 198.5,240.5 199.0,240.1 199.5,239.7 200.0,240.0 200.5,239.2 201.0,239.7 201.5,240.0 202.0,240.5 202.5,241.2 203.0,240.6 203.5,239.8 204.0,241.3 204.5,240.1 205.0,240.2 205.5,240.9 206.0,239.6 206.5,240.8 207.0,239.5 207.5,241.0 208.0,240.9 208.5,240.7 209.0,241.0 209.5,241.3 210.0,240.7 210.5,240.3 211.0,240.0 211.5,240.8 212.0,240.5 212.5,240.6 213.0,240.3 213.5,239.4 214.0,241.2 214.5,241.1 215.0,239.8 215.5,241.3 216.0,241.1 216.5,239.9 217.0,241.2 217.5,240.1 218.0,240.5 218.5,241.3 219.0,241.3 219.5,240.7 220.0,240.6 220.5,241.1 221.0,240.2 221.5,241.2 222.0,240.9 222.5,241.3 223.0,240.9 223.5,240.5 224.0,239.6 224.5,240.8 225.0,240.4 225.5,240.5 226.0,240.6 226.5,241.0 227.0,241.3 227.5,241.0 228.0,240.5 228.5,240.8 229.0,241.2 229.5,241.3 230.0,240.2 230.5,238.8" fill="none" stroke="#0a0a0a" stroke-width="1.4" stroke-linejoin="round"/>
<path d="M136.6,242.0 V204.0" stroke="#111" stroke-width="1.3"/>
<path d="M135.4,150.7 V242.0 H231.6" fill="none" stroke="#000" stroke-width="1.1"/>
<path d="M135.4,242.00 h-2.4 M135.4,238.97 h-1.3 M135.4,235.93 h-1.3 M135.4,232.90 h-1.3 M135.4,229.87 h-1.3 M135.4,226.83 h-2.4 M135.4,223.80 h-1.3 M135.4,220.77 h-1.3 M135.4,217.73 h-1.3 M135.4,214.70 h-1.3 M135.4,211.67 h-2.4 M135.4,208.63 h-1.3 M135.4,205.60 h-1.3 M135.4,202.57 h-1.3 M135.4,199.53 h-1.3 M135.4,196.50 h-2.4 M135.4,193.47 h-1.3 M135.4,190.43 h-1.3 M135.4,187.40 h-1.3 M135.4,184.37 h-1.3 M135.4,181.33 h-2.4 M135.4,178.30 h-1.3 M135.4,175.27 h-1.3 M135.4,172.23 h-1.3 M135.4,169.20 h-1.3 M135.4,166.17 h-2.4 M135.4,163.13 h-1.3 M135.4,160.10 h-1.3 M135.4,157.07 h-1.3 M135.4,154.03 h-1.3 M135.4,151.00 h-2.4" stroke="#222" stroke-width="0.6"/>
<path d="M135.40,242.0 v2.0 M142.62,242.0 v1.0 M146.84,242.0 v1.0 M149.83,242.0 v1.0 M152.16,242.0 v1.0 M154.06,242.0 v1.0 M155.66,242.0 v1.0 M157.05,242.0 v1.0 M158.28,242.0 v1.0 M159.38,242.0 v2.0 M166.59,242.0 v1.0 M170.81,242.0 v1.0 M173.81,242.0 v1.0 M176.13,242.0 v1.0 M178.03,242.0 v1.0 M179.64,242.0 v1.0 M181.03,242.0 v1.0 M182.25,242.0 v1.0 M183.35,242.0 v2.0 M190.57,242.0 v1.0 M194.79,242.0 v1.0 M197.78,242.0 v1.0 M200.11,242.0 v1.0 M202.01,242.0 v1.0 M203.61,242.0 v1.0 M205.00,242.0 v1.0 M206.23,242.0 v1.0 M207.33,242.0 v2.0 M214.54,242.0 v1.0 M218.76,242.0 v1.0 M221.76,242.0 v1.0 M224.08,242.0 v1.0 M225.98,242.0 v1.0 M227.59,242.0 v1.0 M228.98,242.0 v1.0 M230.20,242.0 v1.0 M231.30,242.0 v2" stroke="#222" stroke-width="0.5"/>
<text x="131.5" y="249.8" class="tk">10<tspan dy="-2.2" font-size="4">0</tspan></text>
<text x="155.5" y="249.8" class="tk">10<tspan dy="-2.2" font-size="4">1</tspan></text>
<text x="179.5" y="249.8" class="tk">10<tspan dy="-2.2" font-size="4">2</tspan></text>
<text x="203.4" y="249.8" class="tk">10<tspan dy="-2.2" font-size="4">3</tspan></text>
<text x="227.4" y="249.8" class="tk">10<tspan dy="-2.2" font-size="4">4</tspan></text>
<text transform="translate(131.2,242.0) rotate(-90) scale(0.6,0.9)" class="tk" text-anchor="middle">0</text>
<text transform="translate(131.2,226.8) rotate(-90) scale(0.6,0.9)" class="tk" text-anchor="middle">20</text>
<text transform="translate(131.2,211.7) rotate(-90) scale(0.6,0.9)" class="tk" text-anchor="middle">40</text>
<text transform="translate(131.2,196.5) rotate(-90) scale(0.6,0.9)" class="tk" text-anchor="middle">60</text>
<text transform="translate(131.2,181.3) rotate(-90) scale(0.6,0.9)" class="tk" text-anchor="middle">80</text>
<text transform="translate(131.2,166.2) rotate(-90) scale(0.6,0.9)" class="tk" text-anchor="middle">100</text>
<text transform="translate(131.2,151.0) rotate(-90) scale(0.6,0.9)" class="tk" text-anchor="middle">120</text>
</g>
<clipPath id="cp32"><rect x="234.4" y="145.5" width="112.6" height="110.7"/></clipPath>
<g clip-path="url(#cp32)">
<path d="M246.4,151.5 H341.0 V242.2" fill="none" stroke="#505050" stroke-width="0.75"/>
<polygon points="247.0,242.2 247.0,240.5 247.5,241.1 248.0,240.6 248.5,240.7 249.0,240.9 249.5,240.3 250.0,240.3 250.5,239.7 251.0,239.7 251.5,237.9 252.0,237.6 252.5,236.8 253.0,237.2 253.5,236.1 254.0,236.0 254.5,234.9 255.0,233.9 255.5,234.4 256.0,232.4 256.5,231.0 257.0,229.2 257.5,229.7 258.0,228.3 258.5,225.0 259.0,224.1 259.5,222.4 260.0,218.3 260.5,217.5 261.0,217.2 261.5,210.9 262.0,210.9 262.5,209.6 263.0,203.2 263.5,200.1 264.0,197.4 264.5,194.2 265.0,190.5 265.5,183.8 266.0,180.0 266.5,177.3 267.0,175.6 267.5,178.7 268.0,180.7 268.5,185.3 269.0,192.4 269.5,193.2 270.0,195.1 270.5,199.5 271.0,202.7 271.5,208.2 272.0,212.6 272.5,216.1 273.0,219.6 273.5,221.9 274.0,225.6 274.5,227.8 275.0,227.6 275.5,229.6 276.0,230.3 276.5,230.0 277.0,230.4 277.5,230.7 278.0,229.9 278.5,230.9 279.0,231.8 279.5,232.0 280.0,230.6 280.5,229.9 281.0,230.2 281.5,231.1 282.0,229.2 282.5,230.3 283.0,231.7 283.5,233.4 284.0,233.3 284.5,235.0 285.0,235.2 285.5,236.7 286.0,236.8 286.5,237.3 287.0,238.5 287.5,237.9 288.0,238.5 288.5,239.6 289.0,238.9 289.5,238.7 290.0,238.9 290.5,240.4 291.0,239.4 291.5,240.3 292.0,239.7 292.5,241.0 293.0,241.5 293.5,239.6 294.0,241.4 294.5,240.5 295.0,240.9 295.5,239.4 296.0,240.3 296.5,240.7 297.0,240.4 297.5,240.5 298.0,240.5 298.5,240.7 299.0,239.4 299.5,240.9 300.0,240.3 300.5,241.0 301.0,240.1 301.5,240.9 302.0,240.9 302.5,239.9 303.0,240.8 303.5,241.4 304.0,241.1 304.5,240.7 305.0,240.7 305.5,241.1 306.0,241.0 306.5,241.3 307.0,241.0 307.5,241.4 308.0,241.2 308.5,240.7 309.0,240.5 309.5,240.8 310.0,241.2 310.5,240.6 311.0,241.4 311.5,240.4 312.0,240.9 312.5,240.6 313.0,241.2 313.5,240.9 314.0,241.0 314.5,240.5 315.0,240.7 315.5,240.8 316.0,241.5 316.5,240.8 317.0,241.3 317.5,241.5 318.0,240.7 318.5,240.9 319.0,240.2 319.5,241.0 320.0,241.4 320.5,240.7 321.0,241.3 321.5,241.5 322.0,241.3 322.5,241.0 323.0,241.3 323.5,240.9 324.0,241.0 324.5,241.5 325.0,241.0 325.5,240.9 326.0,241.3 326.5,241.3 327.0,241.5 327.5,240.9 328.0,240.7 328.5,240.5 329.0,241.5 329.5,241.5 330.0,240.9 330.5,241.0 331.0,241.2 331.5,239.4 332.0,241.0 332.5,241.5 333.0,240.7 333.5,241.4 334.0,241.5 334.5,240.7 335.0,241.5 335.5,241.2 336.0,241.0 336.5,241.5 337.0,241.2 337.5,241.1 338.0,241.0 338.5,240.8 339.0,241.0 339.5,241.1 340.0,240.4 340.5,239.0 340.5,242.2" fill="url(#dz)" stroke="#2a2a2a" stroke-width="0.7" stroke-linejoin="round"/>
<polyline points="247.0,241.5 247.5,240.9 248.0,240.9 248.5,240.8 249.0,239.9 249.5,240.8 250.0,240.0 250.5,240.7 251.0,240.3 251.5,241.0 252.0,240.3 252.5,240.3 253.0,239.7 253.5,240.4 254.0,239.9 254.5,240.2 255.0,240.1 255.5,240.0 256.0,239.4 256.5,238.5 257.0,238.7 257.5,239.5 258.0,239.4 258.5,239.4 259.0,238.3 259.5,237.8 260.0,238.6 260.5,238.3 261.0,237.6 261.5,237.3 262.0,236.2 262.5,236.5 263.0,236.9 263.5,235.0 264.0,234.7 264.5,234.2 265.0,233.3 265.5,231.5 266.0,231.6 266.5,230.7 267.0,230.0 267.5,228.9 268.0,228.1 268.5,226.1 269.0,227.4 269.5,224.5 270.0,224.9 270.5,223.5 271.0,220.1 271.5,216.2 272.0,212.4 272.5,210.3 273.0,209.1 273.5,207.3 274.0,203.9 274.5,202.3 275.0,204.5 275.5,199.5 276.0,195.7 276.5,195.8 277.0,189.8 277.5,185.8 278.0,186.0 278.5,187.9 279.0,192.0 279.5,197.1 280.0,196.6 280.5,193.2 281.0,193.6 281.5,187.0 282.0,187.4 282.5,193.0 283.0,196.9 283.5,197.5 284.0,200.0 284.5,204.8 285.0,208.3 285.5,211.2 286.0,213.3 286.5,215.5 287.0,219.3 287.5,222.5 288.0,225.2 288.5,227.4 289.0,229.8 289.5,230.2 290.0,233.5 290.5,234.9 291.0,234.6 291.5,234.8 292.0,236.4 292.5,237.1 293.0,237.2 293.5,238.2 294.0,237.7 294.5,237.7 295.0,239.3 295.5,238.6 296.0,238.8 296.5,238.1 297.0,239.2 297.5,239.3 298.0,239.7 298.5,240.1 299.0,240.0 299.5,239.5 300.0,240.6 300.5,240.3 301.0,240.5 301.5,240.3 302.0,240.4 302.5,239.8 303.0,239.7 303.5,240.1 304.0,240.1 304.5,240.5 305.0,238.5 305.5,240.2 306.0,240.1 306.5,241.0 307.0,240.2 307.5,240.3 308.0,240.5 308.5,240.7 309.0,239.7 309.5,240.0 310.0,240.9 310.5,240.7 311.0,240.6 311.5,240.0 312.0,239.9 312.5,240.7 313.0,240.4 313.5,240.8 314.0,239.1 314.5,240.8 315.0,241.5 315.5,241.0 316.0,240.9 316.5,241.5 317.0,241.1 317.5,241.5 318.0,240.5 318.5,240.4 319.0,240.0 319.5,240.5 320.0,240.1 320.5,241.5 321.0,241.0 321.5,241.2 322.0,241.1 322.5,241.0 323.0,240.9 323.5,240.4 324.0,241.5 324.5,240.9 325.0,241.5 325.5,241.4 326.0,240.5 326.5,241.0 327.0,241.0 327.5,240.9 328.0,240.9 328.5,241.1 329.0,240.9 329.5,240.8 330.0,241.2 330.5,241.1 331.0,240.9 331.5,241.3 332.0,240.3 332.5,241.3 333.0,241.1 333.5,241.5 334.0,240.4 334.5,241.5 335.0,241.0 335.5,241.5 336.0,240.9 336.5,241.1 337.0,241.3 337.5,240.9 338.0,240.9 338.5,241.0 339.0,241.5 339.5,240.4 340.0,240.4 340.5,239.0" fill="none" stroke="#0a0a0a" stroke-width="1.4" stroke-linejoin="round"/>
<path d="M247.6,242.2 V212.0" stroke="#111" stroke-width="1.3"/>
<path d="M246.4,151.2 V242.2 H341.3" fill="none" stroke="#000" stroke-width="1.1"/>
<path d="M246.4,242.20 h-2.4 M246.4,239.18 h-1.3 M246.4,236.15 h-1.3 M246.4,233.13 h-1.3 M246.4,230.11 h-1.3 M246.4,227.08 h-2.4 M246.4,224.06 h-1.3 M246.4,221.04 h-1.3 M246.4,218.01 h-1.3 M246.4,214.99 h-1.3 M246.4,211.97 h-2.4 M246.4,208.94 h-1.3 M246.4,205.92 h-1.3 M246.4,202.90 h-1.3 M246.4,199.87 h-1.3 M246.4,196.85 h-2.4 M246.4,193.83 h-1.3 M246.4,190.80 h-1.3 M246.4,187.78 h-1.3 M246.4,184.76 h-1.3 M246.4,181.73 h-2.4 M246.4,178.71 h-1.3 M246.4,175.69 h-1.3 M246.4,172.66 h-1.3 M246.4,169.64 h-1.3 M246.4,166.62 h-2.4 M246.4,163.59 h-1.3 M246.4,160.57 h-1.3 M246.4,157.55 h-1.3 M246.4,154.52 h-1.3 M246.4,151.50 h-2.4" stroke="#222" stroke-width="0.6"/>
<path d="M246.40,242.2 v2.0 M253.52,242.2 v1.0 M257.68,242.2 v1.0 M260.64,242.2 v1.0 M262.93,242.2 v1.0 M264.80,242.2 v1.0 M266.39,242.2 v1.0 M267.76,242.2 v1.0 M268.97,242.2 v1.0 M270.05,242.2 v2.0 M277.17,242.2 v1.0 M281.33,242.2 v1.0 M284.29,242.2 v1.0 M286.58,242.2 v1.0 M288.45,242.2 v1.0 M290.04,242.2 v1.0 M291.41,242.2 v1.0 M292.62,242.2 v1.0 M293.70,242.2 v2.0 M300.82,242.2 v1.0 M304.98,242.2 v1.0 M307.94,242.2 v1.0 M310.23,242.2 v1.0 M312.10,242.2 v1.0 M313.69,242.2 v1.0 M315.06,242.2 v1.0 M316.27,242.2 v1.0 M317.35,242.2 v2.0 M324.47,242.2 v1.0 M328.63,242.2 v1.0 M331.59,242.2 v1.0 M333.88,242.2 v1.0 M335.75,242.2 v1.0 M337.34,242.2 v1.0 M338.71,242.2 v1.0 M339.92,242.2 v1.0 M341.00,242.2 v2" stroke="#222" stroke-width="0.5"/>
<text x="242.5" y="250.0" class="tk">10<tspan dy="-2.2" font-size="4">0</tspan></text>
<text x="266.2" y="250.0" class="tk">10<tspan dy="-2.2" font-size="4">1</tspan></text>
<text x="289.8" y="250.0" class="tk">10<tspan dy="-2.2" font-size="4">2</tspan></text>
<text x="313.5" y="250.0" class="tk">10<tspan dy="-2.2" font-size="4">3</tspan></text>
<text x="337.1" y="250.0" class="tk">10<tspan dy="-2.2" font-size="4">4</tspan></text>
<text transform="translate(242.2,242.2) rotate(-90) scale(0.6,0.9)" class="tk" text-anchor="middle">0</text>
<text transform="translate(242.2,227.1) rotate(-90) scale(0.6,0.9)" class="tk" text-anchor="middle">20</text>
<text transform="translate(242.2,212.0) rotate(-90) scale(0.6,0.9)" class="tk" text-anchor="middle">40</text>
<text transform="translate(242.2,196.8) rotate(-90) scale(0.6,0.9)" class="tk" text-anchor="middle">60</text>
<text transform="translate(242.2,181.7) rotate(-90) scale(0.6,0.9)" class="tk" text-anchor="middle">80</text>
<text transform="translate(242.2,166.6) rotate(-90) scale(0.6,0.9)" class="tk" text-anchor="middle">100</text>
<text transform="translate(242.2,151.5) rotate(-90) scale(0.6,0.9)" class="tk" text-anchor="middle">120</text>
</g>
<clipPath id="cp42"><rect x="346.6" y="145.6" width="109.2" height="111.1"/></clipPath>
<g clip-path="url(#cp42)">
<path d="M358.6,151.6 H455.0 V242.7" fill="none" stroke="#505050" stroke-width="0.75"/>
<polygon points="359.2,242.7 359.2,241.2 359.7,241.4 360.2,241.0 360.7,240.7 361.2,240.8 361.7,239.5 362.2,239.6 362.7,239.3 363.2,239.4 363.7,239.0 364.2,238.8 364.7,238.7 365.2,238.5 365.7,238.0 366.2,237.1 366.7,237.4 367.2,236.5 367.7,237.2 368.2,236.3 368.7,235.4 369.2,235.0 369.7,234.0 370.2,234.3 370.7,233.0 371.2,233.6 371.7,231.7 372.2,231.9 372.7,233.4 373.2,233.0 373.7,232.4 374.2,229.2 374.7,227.8 375.2,225.4 375.7,222.4 376.2,220.8 376.7,215.9 377.2,212.5 377.7,208.1 378.2,202.8 378.7,198.3 379.2,180.8 379.7,170.8 380.2,169.1 380.7,163.3 381.2,161.6 381.7,162.6 382.2,158.9 382.7,158.8 383.2,157.6 383.7,157.8 384.2,154.7 384.7,158.5 385.2,168.0 385.7,174.6 386.2,183.6 386.7,190.6 387.2,193.8 387.7,199.5 388.2,203.8 388.7,208.5 389.2,211.9 389.7,213.9 390.2,219.8 390.7,223.6 391.2,227.4 391.7,227.3 392.2,229.6 392.7,232.3 393.2,232.6 393.7,234.9 394.2,234.0 394.7,232.9 395.2,235.8 395.7,235.8 396.2,236.0 396.7,235.8 397.2,236.8 397.7,237.6 398.2,237.8 398.7,237.9 399.2,238.5 399.7,238.5 400.2,238.0 400.7,238.9 401.2,239.2 401.7,240.1 402.2,239.3 402.7,238.9 403.2,240.2 403.7,240.1 404.2,239.6 404.7,239.4 405.2,240.8 405.7,239.3 406.2,239.9 406.7,240.5 407.2,239.9 407.7,240.3 408.2,240.8 408.7,240.5 409.2,240.1 409.7,240.3 410.2,240.8 410.7,241.4 411.2,240.5 411.7,241.7 412.2,240.6 412.7,241.6 413.2,242.0 413.7,241.6 414.2,241.0 414.7,241.8 415.2,241.6 415.7,241.3 416.2,241.0 416.7,240.9 417.2,241.1 417.7,242.0 418.2,241.4 418.7,241.4 419.2,241.0 419.7,241.3 420.2,241.1 420.7,240.9 421.2,241.3 421.7,241.0 422.2,241.3 422.7,241.2 423.2,241.0 423.7,240.3 424.2,241.6 424.7,240.1 425.2,240.7 425.7,241.3 426.2,241.2 426.7,241.9 427.2,241.4 427.7,241.2 428.2,241.1 428.7,241.7 429.2,240.7 429.7,241.3 430.2,241.2 430.7,241.3 431.2,241.3 431.7,241.0 432.2,241.0 432.7,241.5 433.2,241.1 433.7,242.0 434.2,241.7 434.7,241.1 435.2,241.8 435.7,241.5 436.2,241.7 436.7,241.4 437.2,242.0 437.7,239.8 438.2,241.9 438.7,241.5 439.2,241.7 439.7,241.7 440.2,241.0 440.7,240.2 441.2,241.4 441.7,240.7 442.2,240.7 442.7,242.0 443.2,241.8 443.7,242.0 444.2,240.1 444.7,242.0 445.2,241.5 445.7,239.7 446.2,241.6 446.7,241.7 447.2,241.2 447.7,242.0 448.2,241.7 448.7,239.9 449.2,239.7 449.7,240.4 450.2,242.0 450.7,242.0 451.2,240.3 451.7,241.3 452.2,242.0 452.7,241.5 453.2,241.7 453.7,240.9 454.2,239.5 454.2,242.7" fill="url(#dz)" stroke="#2a2a2a" stroke-width="0.7" stroke-linejoin="round"/>
<polyline points="359.2,241.4 359.7,240.5 360.2,240.8 360.7,240.9 361.2,240.0 361.7,240.0 362.2,239.5 362.7,239.8 363.2,238.9 363.7,239.0 364.2,238.2 364.7,238.5 365.2,237.4 365.7,236.9 366.2,236.9 366.7,237.7 367.2,236.1 367.7,235.0 368.2,234.8 368.7,236.6 369.2,234.5 369.7,234.1 370.2,233.9 370.7,234.4 371.2,233.3 371.7,232.9 372.2,232.2 372.7,231.2 373.2,231.2 373.7,230.1 374.2,227.8 374.7,224.7 375.2,225.7 375.7,222.7 376.2,218.6 376.7,214.7 377.2,210.6 377.7,204.6 378.2,198.1 378.7,186.7 379.2,175.7 379.7,168.9 380.2,164.3 380.7,163.9 381.2,162.1 381.7,162.3 382.2,161.7 382.7,157.8 383.2,158.1 383.7,155.3 384.2,154.9 384.7,159.8 385.2,163.2 385.7,170.7 386.2,181.3 386.7,186.8 387.2,190.8 387.7,195.9 388.2,200.0 388.7,207.2 389.2,208.1 389.7,212.7 390.2,217.1 390.7,220.7 391.2,226.5 391.7,227.6 392.2,226.9 392.7,229.3 393.2,231.8 393.7,231.6 394.2,233.0 394.7,233.8 395.2,234.3 395.7,234.4 396.2,235.3 396.7,235.8 397.2,235.7 397.7,236.8 398.2,237.0 398.7,237.4 399.2,237.9 399.7,237.8 400.2,237.5 400.7,238.8 401.2,238.8 401.7,238.1 402.2,238.3 402.7,239.2 403.2,239.5 403.7,238.5 404.2,239.3 404.7,239.3 405.2,239.6 405.7,240.1 406.2,240.8 406.7,238.3 407.2,240.9 407.7,240.8 408.2,241.4 408.7,239.4 409.2,240.7 409.7,241.1 410.2,240.8 410.7,241.5 411.2,241.0 411.7,241.3 412.2,241.1 412.7,240.5 413.2,241.3 413.7,240.7 414.2,240.9 414.7,240.9 415.2,241.2 415.7,240.4 416.2,241.1 416.7,241.4 417.2,241.0 417.7,240.6 418.2,240.4 418.7,240.9 419.2,240.7 419.7,241.1 420.2,241.2 420.7,241.4 421.2,241.1 421.7,240.7 422.2,241.9 422.7,242.0 423.2,240.3 423.7,241.0 424.2,242.0 424.7,241.9 425.2,241.3 425.7,241.6 426.2,240.6 426.7,241.3 427.2,241.8 427.7,240.4 428.2,241.6 428.7,240.9 429.2,242.0 429.7,240.9 430.2,240.8 430.7,241.1 431.2,241.1 431.7,241.5 432.2,242.0 432.7,240.9 433.2,240.1 433.7,241.7 434.2,241.1 434.7,241.8 435.2,241.7 435.7,241.7 436.2,241.6 436.7,241.0 437.2,242.0 437.7,241.6 438.2,242.0 438.7,241.7 439.2,241.0 439.7,242.0 440.2,241.9 440.7,242.0 441.2,241.6 441.7,241.8 442.2,241.5 442.7,241.2 443.2,241.9 443.7,241.4 444.2,240.3 444.7,241.6 445.2,241.5 445.7,241.2 446.2,241.8 446.7,242.0 447.2,241.6 447.7,241.6 448.2,241.5 448.7,241.3 449.2,242.0 449.7,242.0 450.2,241.8 450.7,241.2 451.2,241.5 451.7,242.0 452.2,240.7 452.7,242.0 453.2,242.0 453.7,240.9 454.2,239.5" fill="none" stroke="#0a0a0a" stroke-width="1.4" stroke-linejoin="round"/>
<path d="M358.6,151.3 V242.7 H455.3" fill="none" stroke="#000" stroke-width="1.1"/>
<path d="M358.6,242.70 h-2.4 M358.6,239.66 h-1.3 M358.6,236.63 h-1.3 M358.6,233.59 h-1.3 M358.6,230.55 h-1.3 M358.6,227.52 h-2.4 M358.6,224.48 h-1.3 M358.6,221.44 h-1.3 M358.6,218.41 h-1.3 M358.6,215.37 h-1.3 M358.6,212.33 h-2.4 M358.6,209.30 h-1.3 M358.6,206.26 h-1.3 M358.6,203.22 h-1.3 M358.6,200.19 h-1.3 M358.6,197.15 h-2.4 M358.6,194.11 h-1.3 M358.6,191.08 h-1.3 M358.6,188.04 h-1.3 M358.6,185.00 h-1.3 M358.6,181.97 h-2.4 M358.6,178.93 h-1.3 M358.6,175.89 h-1.3 M358.6,172.86 h-1.3 M358.6,169.82 h-1.3 M358.6,166.78 h-2.4 M358.6,163.75 h-1.3 M358.6,160.71 h-1.3 M358.6,157.67 h-1.3 M358.6,154.64 h-1.3 M358.6,151.60 h-2.4" stroke="#222" stroke-width="0.6"/>
<path d="M358.60,242.7 v2.0 M365.85,242.7 v1.0 M370.10,242.7 v1.0 M373.11,242.7 v1.0 M375.45,242.7 v1.0 M377.35,242.7 v1.0 M378.97,242.7 v1.0 M380.36,242.7 v1.0 M381.60,242.7 v1.0 M382.70,242.7 v2.0 M389.95,242.7 v1.0 M394.20,242.7 v1.0 M397.21,242.7 v1.0 M399.55,242.7 v1.0 M401.45,242.7 v1.0 M403.07,242.7 v1.0 M404.46,242.7 v1.0 M405.70,242.7 v1.0 M406.80,242.7 v2.0 M414.05,242.7 v1.0 M418.30,242.7 v1.0 M421.31,242.7 v1.0 M423.65,242.7 v1.0 M425.55,242.7 v1.0 M427.17,242.7 v1.0 M428.56,242.7 v1.0 M429.80,242.7 v1.0 M430.90,242.7 v2.0 M438.15,242.7 v1.0 M442.40,242.7 v1.0 M445.41,242.7 v1.0 M447.75,242.7 v1.0 M449.65,242.7 v1.0 M451.27,242.7 v1.0 M452.66,242.7 v1.0 M453.90,242.7 v1.0 M455.00,242.7 v2" stroke="#222" stroke-width="0.5"/>
<text x="354.7" y="250.5" class="tk">10<tspan dy="-2.2" font-size="4">0</tspan></text>
<text x="378.8" y="250.5" class="tk">10<tspan dy="-2.2" font-size="4">1</tspan></text>
<text x="402.9" y="250.5" class="tk">10<tspan dy="-2.2" font-size="4">2</tspan></text>
<text x="427.0" y="250.5" class="tk">10<tspan dy="-2.2" font-size="4">3</tspan></text>
<text x="451.1" y="250.5" class="tk">10<tspan dy="-2.2" font-size="4">4</tspan></text>
<text transform="translate(354.4,242.7) rotate(-90) scale(0.6,0.9)" class="tk" text-anchor="middle">0</text>
<text transform="translate(354.4,227.5) rotate(-90) scale(0.6,0.9)" class="tk" text-anchor="middle">20</text>
<text transform="translate(354.4,212.3) rotate(-90) scale(0.6,0.9)" class="tk" text-anchor="middle">40</text>
<text transform="translate(354.4,197.2) rotate(-90) scale(0.6,0.9)" class="tk" text-anchor="middle">60</text>
<text transform="translate(354.4,182.0) rotate(-90) scale(0.6,0.9)" class="tk" text-anchor="middle">80</text>
<text transform="translate(354.4,166.8) rotate(-90) scale(0.6,0.9)" class="tk" text-anchor="middle">100</text>
<text transform="translate(354.4,151.6) rotate(-90) scale(0.6,0.9)" class="tk" text-anchor="middle">120</text>
</g>
<text x="76.0" y="58.0" class="lb" style="font-size:12.9px">0 Time</text>
<text x="197.0" y="59.6" class="lb" style="font-size:12.9px">Tpo</text>
<text x="191.0" y="74.4" class="lb" style="font-size:12.9px">24 hr.</text>
<text x="308.6" y="59.6" class="lb" style="font-size:12.9px">GM</text>
<text x="307.0" y="74.4" class="lb" style="font-size:12.9px">24 hr.</text>
<text x="415.0" y="60.0" class="lb" style="font-size:12.9px">Media</text>
<text x="415.6" y="75.0" class="lb" style="font-size:12.9px">24 hr.</text>
<text x="76.0" y="167.0" class="lb" style="font-size:12.9px">0 Time</text>
<text x="197.0" y="169.6" class="lb" style="font-size:12.9px">Tpo</text>
<text x="191.0" y="184.4" class="lb" style="font-size:12.9px">24 hr.</text>
<text x="312.0" y="167.6" class="lb" style="font-size:12.9px">GM</text>
<text x="310.0" y="183.0" class="lb" style="font-size:12.9px">24 hr.</text>
<text x="417.6" y="167.8" class="lb" style="font-size:12.9px">Media</text>
<text x="418.2" y="183.3" class="lb" style="font-size:12.9px">24 hr.</text>
<text x="462.0" y="90.0" class="lb">Suppressor</text>
<text x="466.0" y="105.0" class="lb">Pab 1620</text>
<text x="468.0" y="198.0" class="lb">Promoter</text>
<text x="470.5" y="213.0" class="lb">Pab 240</text>
<text transform="translate(16.7,20.4) scale(0.9,1)" class="pa">A</text>
<text transform="translate(12.6,103) rotate(-90)" class="ct">Counts</text>
<text x="176" y="266" class="fx">FITC Log Intensity</text>
<path d="M6,117 V259.5 H152" fill="none" stroke="#000" stroke-width="1.2"/>
<polygon points="6,105.5 2,118 10.6,118" fill="#000"/>
<polygon points="168,260 151,255.6 151,264.4" fill="#000"/>
<rect x="29" y="271.8" width="17.5" height="18.6" fill="#3e3e3e"/>
<rect x="30.5" y="273.3" width="14.5" height="15.6" fill="url(#dl)"/>
<text x="54" y="286" class="lb">Isotype control</text>
<rect x="142" y="274" width="14" height="14.6" fill="#fff" stroke="#000" stroke-width="2"/>
<text x="164.3" y="286.3" class="lb" style="font-size:12.8px">α-p53 Antibody</text>
</svg>
</body>
</html>
